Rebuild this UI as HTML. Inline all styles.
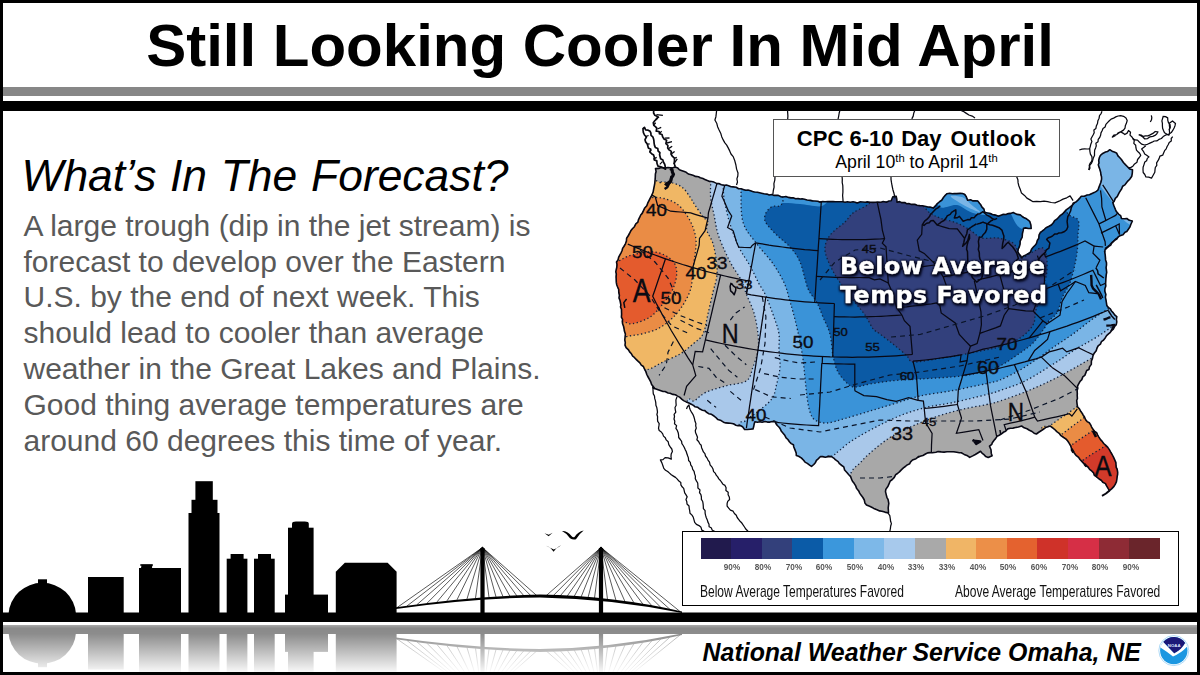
<!DOCTYPE html>
<html lang="en"><head><meta charset="utf-8"><title>Still Looking Cooler In Mid April</title>
<style>
html,body{margin:0;padding:0;background:#fff}
html{width:1200px;height:675px;overflow:hidden}
svg{display:block}
body{width:1200px;height:675px;position:relative;overflow:hidden;font-family:"Liberation Sans",sans-serif}
.abs{position:absolute}
#frame{left:0;top:0;width:1194px;height:669px;border:3px solid #000;z-index:20;pointer-events:none}
#gband{left:3px;top:86.7px;width:1194px;height:9.6px;background:#878787}
#kbar1{left:0;top:101px;width:1200px;height:9.5px;background:#000}
#kbar2{left:0;top:612.5px;width:1200px;height:9px;background:#000}
#title{left:0;top:0;width:1200px;text-align:center;font-weight:bold;font-size:60px;line-height:60px;white-space:nowrap;color:#000}
#h2{left:21.5px;top:151.3px;word-spacing:1.2px;font-style:italic;font-size:44.4px;line-height:50px;white-space:nowrap;color:#000}
#body{left:23.5px;top:207.7px;font-size:30px;line-height:35.85px;color:#595959;white-space:nowrap}
#foot{left:702.6px;top:636.8px;font-weight:bold;font-style:italic;font-size:24.92px;line-height:30px;white-space:nowrap;color:#000}
#cpc{left:773.3px;top:119.2px;width:284.4px;height:56.3px;border:1.2px solid #555;background:#fff;text-align:center}
#cpc .t1{position:absolute;left:0;width:100%;top:6.4px;font-weight:bold;font-size:22px;line-height:24px;white-space:nowrap}
#cpc .t2{position:absolute;left:0px;width:100%;top:30.8px;font-size:17.7px;line-height:22px;white-space:nowrap}
#cpc sup{font-size:11.3px;line-height:0;vertical-align:6.2px}
#legend{left:681.5px;top:531px;width:495px;height:73px;border:1px solid #000;background:#fff}
#legend .bar{position:absolute;left:18px;top:5.6px;height:21px;width:459.3px;display:flex}
#legend .bar i{display:block;flex:1 1 0;height:100%}
#legend .pl{position:absolute;top:28px;width:40px;margin-left:-20px;text-align:center;font-weight:bold;font-size:9.5px;line-height:14px;color:#585858;transform:scaleX(0.86)}
#legend .cap{position:absolute;top:50px;font-size:16.4px;line-height:18px;white-space:nowrap;color:#111;transform-origin:0 0;transform:scaleX(0.733)}
.ba{left:839.5px;width:206px;font-family:"DejaVu Sans","Liberation Sans",sans-serif;font-weight:bold;font-size:22.4px;line-height:29.4px;white-space:nowrap;letter-spacing:0.5px;transform-origin:0 0}
</style></head><body>
<div id="gband" class="abs"></div>
<div id="kbar1" class="abs"></div>
<div id="title" class="abs"><span style="position:relative;top:15.6px;left:0px">Still Looking Cooler In Mid April</span></div>
<div id="h2" class="abs">What’s In<span style="margin-left:0.3px"> The</span><span style="margin-left:0.3px"> Forecast?</span></div>
<div id="body" class="abs">A large trough (dip in the jet stream) is<br>forecast to develop over the Eastern<br>U.S. by the end of next week. This<br>should lead to cooler than average<br>weather in the Great Lakes and Plains.<br>Good thing average temperatures are<br>around 60 degrees this time of year.</div>
<div class="abs" style="left:0;top:0;width:1200px;height:675px;overflow:hidden"><svg id="art" width="1200" height="675" viewBox="0 0 1200 675">
<defs>
<clipPath id="us"><path d="M655.8,168.3 L675,167.5 L693.3,175.8 L716.7,183.3 L738.3,188.3 L766.7,194.2 L800,199 L820,201.7 L843,202.2 L875,202.5 L891.7,201.3 L893.3,196.7 L895.8,196.7 L896.7,201.7 L916.7,205 L933,208 L941.7,200 L946.7,193.3 L965,194 L968,200 L978,200.8 L985,211.7 L998,215.8 L1013,213 L1020,215 L1030,221.7 L1030.8,228 L1023,228 L1021.7,236.7 L1018,251.7 L1021.7,258 L1030,251.7 L1036.7,243 L1040,233 L1053,223 L1066.7,210 L1071.7,205 L1081.7,196.7 L1096.7,191.7 L1100,185 L1101.7,176.7 L1098.3,165 L1100,155 L1110,150 L1116.7,153.3 L1126.7,166.7 L1133,170 L1131.7,176.7 L1123,186.7 L1116.7,196.7 L1113,203 L1116.7,211.7 L1121.7,218 L1127,219 L1132,221 L1130,227 L1126.7,231 L1114,241 L1105,250 L1106.7,272 L1105,288.7 L1106.7,305 L1116.7,317 L1116.7,325 L1108,334 L1100,344 L1093,355.7 L1090,367 L1083,377 L1078,385.7 L1076.7,400.7 L1078,407 L1085.9,419.3 L1094.8,431.1 L1102.2,441.5 L1111.1,451.9 L1115.6,462.2 L1117.8,474.1 L1115.6,484.4 L1109.6,490.6 L1105.2,483.5 L1096.3,477 L1091.9,471.1 L1085.9,465.2 L1078.5,457.8 L1072.6,450.4 L1068.1,441.5 L1060.7,435.6 L1054.8,429.6 L1050,425.7 L1043,429 L1036.7,434 L1021.7,426.5 L1010,428 L996.7,436.7 L990,446.7 L992,456 L988,458 L980,451.7 L970,457.5 L961.7,453 L946.7,451.7 L930,452.5 L923,455 L913,460 L898,473 L890,481.7 L885,491.7 L889,503 L888,513 L876.7,510 L866.7,505 L860,493 L850,476.7 L841.7,465 L831.7,456.7 L820,456.7 L811.7,466.7 L796.7,455 L793,445 L781.7,431.7 L775,421.7 L755,422 L753,429 L745,429 L743,426.5 L723,422 L706.7,412 L693,405.7 L681.7,399 L678,395.7 L655,389 L651.7,384 L648,377 L643,367 L633,355.7 L625,345.7 L625,334 L621.7,317 L620,300 L615.8,277 L616.7,262 L625,243.7 L628,235 L637.5,222 L641.7,213 L648,203 L653,191.7 L655,180Z"/></clipPath>
<clipPath id="mapclip"><rect x="603" y="110" width="594" height="503"/></clipPath>
<linearGradient id="fade" x1="0" y1="625" x2="0" y2="672" gradientUnits="userSpaceOnUse"><stop offset="0" stop-color="#fff" stop-opacity="0.34"/><stop offset="0.07" stop-color="#fff" stop-opacity="0.46"/><stop offset="0.19" stop-color="#fff" stop-opacity="0.45"/><stop offset="1" stop-color="#fff" stop-opacity="0.03"/></linearGradient>
<mask id="rmask" maskUnits="userSpaceOnUse" x="0" y="620" width="1200" height="55"><rect x="0" y="620" width="1200" height="55" fill="url(#fade)"/></mask>
<filter id="ts" x="-10%" y="-30%" width="120%" height="160%"><feGaussianBlur stdDeviation="1.1"/></filter>
</defs>
<g clip-path="url(#mapclip)">
<g clip-path="url(#us)">
<rect x="600" y="110" width="600" height="420" fill="#a8a8a8"/>
<path d="M710.7,150 C710.7,163.3 710.7,172 710.7,180 C710.7,188 710.1,191.9 710.7,197.8 C711.3,203.7 713,209.7 714.2,215.6 C715.4,221.5 716,227.5 717.8,233.4 C719.6,239.3 722.5,245.9 724.9,251.2 C727.3,256.5 729.3,260.7 732,265.4 C734.7,270.1 738.5,274.9 740.9,279.6 C743.3,284.4 744.1,288.3 746.3,293.9 C748.5,299.5 752,306.3 754,313 C756,319.7 757.3,327.7 758,334 C758.7,340.3 758.8,345.2 758,350.7 C757.2,356.2 754.9,362 753,367 C751.1,372 751.1,377.6 746.7,380.7 C742.3,383.8 733.4,383.8 726.7,385.7 C720,387.6 712,389.5 706.7,392 C701.4,394.5 698.5,397.4 695,400.7 C691.5,404 686.8,388.8 686,412 C685.2,435.2 663.5,518.7 690,540 C716.5,561.3 819,548.3 845,540 C871,531.7 844.9,501.4 846,490 C847.1,478.6 849.4,476.2 851.7,471.7 C854,467.2 857,466.1 860,463 C863,459.9 865,457.2 870,453 C875,448.8 883,441.9 890,437.5 C897,433.1 903.9,430 911.7,426.5 C919.5,423 928.4,419.3 936.7,416.5 C945,413.7 953.4,411.5 961.7,409.5 C970,407.5 980.3,405.9 986.7,404.5 C993.1,403.1 992.8,403.4 1000,401 C1007.2,398.6 1020,394.2 1030,390 C1040,385.8 1049.5,381.4 1060,376 C1070.5,370.6 1081.3,363.8 1093,357.5 C1104.7,351.2 1112.2,347.6 1130,338 C1147.8,328.4 1188.3,339.7 1200,300 C1211.7,260.3 1281.5,133.3 1200,100 C1118.5,66.7 792.2,91.7 710.7,100 C629.2,108.3 710.7,136.7 710.7,150Z" fill="#a9c8ea"/>
<path d="M723,150 C723,164.2 722.8,176.5 723.1,185.3 C723.4,194.2 723.7,196.6 724.9,203.1 C726.1,209.6 727.8,217.1 730.2,224.5 C732.6,231.9 735.8,240.8 739.1,247.6 C742.4,254.4 746.5,259.5 749.8,265.4 C753.1,271.3 756,278.1 758.7,283.2 C761.4,288.2 763.1,289.6 765.8,295.7 C768.5,301.8 772.8,313.6 775,320 C777.2,326.4 778.3,328.9 779,334 C779.7,339.1 778.8,345.2 779,350.7 C779.2,356.2 780.4,361.4 780,367 C779.6,372.6 778.1,378.7 776.7,384 C775.3,389.3 775.2,394.2 771.7,399 C768.2,403.8 760.5,409.3 756,413 C751.5,416.7 748,417.3 745,421 C742,424.7 738.8,415.2 738,435 C737.2,454.8 725.5,522.5 740,540 C754.5,557.5 810.7,552.7 825,540 C839.3,527.3 824.7,478 826,464 C827.3,450 830.7,458.3 833,456 C835.3,453.7 836.7,452.7 840,450 C843.3,447.3 846.7,444 853,440 C859.3,436 869.7,430.2 878,426 C886.3,421.8 894.7,417.7 903,414.5 C911.3,411.3 919.7,409 928,407 C936.3,405 943.2,404.6 953,402.5 C962.8,400.4 978.9,396.5 986.7,394.5 C994.5,392.5 993.6,392.8 1000,390.5 C1006.4,388.2 1015.8,385.6 1025,381 C1034.2,376.4 1046.5,368.3 1055,363 C1063.5,357.7 1069.2,353.2 1076,349 C1082.8,344.8 1087,343 1096,337.5 C1105,332 1112.7,325.6 1130,316 C1147.3,306.4 1188.3,316 1200,280 C1211.7,244 1279.5,130 1200,100 C1120.5,70 802.5,91.7 723,100 C643.5,108.3 723,135.8 723,150Z" fill="#7ab5e6"/>
<path d="M741,150 C741,164.5 740.7,175 741,187 C741.3,199 740.4,212.6 743,222 C745.6,231.4 751.7,236.8 756.7,243.7 C761.7,250.6 768.4,257 773,263.7 C777.6,270.4 781.8,277.6 784.5,283.7 C787.2,289.8 788.1,295.3 789.5,300 C790.9,304.7 791.7,307 793,312 C794.3,317 795.9,322.7 797.5,330 C799.1,337.3 801.2,347.7 802.5,355.7 C803.8,363.7 804.2,371.1 805,378 C805.8,384.9 806.2,391.3 807,397 C807.8,402.7 808.7,408.2 810,412 C811.3,415.8 812.2,418.2 815,420 C817.8,421.8 821.7,423.2 826.7,423 C831.7,422.8 837.8,420.5 845,418.5 C852.2,416.5 861.7,413.5 870,411 C878.3,408.5 886.7,406 895,403.5 C903.3,401 910.3,398.2 920,396 C929.7,393.8 941.9,392.6 953,390.5 C964.1,388.4 978.9,385.2 986.7,383.5 C994.5,381.8 994.5,382.2 1000,380 C1005.5,377.8 1013.8,373.5 1020,370 C1026.2,366.5 1031.5,362.8 1037,359 C1042.5,355.2 1047,351.7 1053,347.5 C1059,343.3 1065.8,339.1 1073,334 C1080.2,328.9 1086.5,323 1096,316.7 C1105.5,310.4 1112.7,305.4 1130,296 C1147.3,286.6 1188.3,292.7 1200,260 C1211.7,227.3 1276.5,126.7 1200,100 C1123.5,73.3 817.5,91.7 741,100 C664.5,108.3 741,135.5 741,150Z" fill="#3a93d8"/>
<path d="M783,150 C736.8,158.4 784.9,191.1 783,200.5 C781.1,209.9 774.6,204.6 771.7,206.7 C768.8,208.8 766.8,210.8 765.8,213.3 C764.8,215.9 763.7,218.4 765.5,222 C767.3,225.6 772.6,230.8 776.7,235 C780.8,239.2 786.1,242.5 790,247 C793.9,251.5 797,255.1 800,262 C803,268.9 805.2,282 808,288.7 C810.8,295.4 814.2,297.3 816.7,302 C819.2,306.7 820.8,311.7 823,317 C825.2,322.3 828.3,327.6 830,334 C831.7,340.4 831.7,349.4 833,355.7 C834.3,362 835.5,367.3 838,372 C840.5,376.7 845.2,381.5 848,384 C850.8,386.5 851.3,387 855,387 C858.7,387 863.3,385.1 870,384 C876.7,382.9 886.7,381.3 895,380.5 C903.3,379.7 908.9,379.8 920,379 C931.1,378.2 950.9,377.3 961.7,376 C972.5,374.7 978.6,372.7 985,371 C991.4,369.3 994.2,369 1000,366 C1005.8,363 1014.5,356.8 1020,353 C1025.5,349.2 1029,347.1 1033,343 C1037,338.9 1041.3,332.4 1044,328.7 C1046.7,325 1046.8,323.4 1049,320.7 C1051.2,318 1054.7,316.7 1057,312.7 C1059.3,308.7 1060.4,302 1062.7,296.7 C1065,291.4 1068.4,287.6 1070.7,280.7 C1073,273.8 1075.5,262.6 1076.7,255 C1077.9,247.4 1077.8,240.8 1078,235 C1078.2,229.2 1079.9,223.9 1078,220 C1076.1,216.1 1069.7,218.4 1066.7,211.7 C1063.7,205 1061.1,190.3 1060,180 C1058.9,169.7 1106.2,155 1060,150 C1013.8,145 829.2,141.6 783,150Z" fill="#0b5aa5"/>
<path d="M845,222 C848.8,218.3 849.5,215.7 853,213 C856.5,210.3 862.2,208.2 866,206 C869.8,203.8 870.3,201.3 876,200 C881.7,198.7 892.7,197.3 900,198 C907.3,198.7 915,201.5 920,204 C925,206.5 926.7,210.7 930,213 C933.3,215.3 935.5,216.3 940,218 C944.5,219.7 951.7,221 956.7,223 C961.7,225 965.8,227.5 970,230 C974.2,232.5 977,236.7 981.7,238 C986.4,239.3 992.8,237.2 998,238 C1003.2,238.8 1009.7,240.7 1013,243 C1016.3,245.3 1016.5,249.2 1018,251.7 C1019.5,254.2 1019.2,258 1021.7,258 C1024.2,258 1029.5,253.4 1033,251.7 C1036.5,250 1040.7,246.9 1043,248 C1045.3,249.1 1046.1,253.8 1046.7,258 C1047.3,262.2 1047.2,268.8 1046.7,273 C1046.2,277.2 1045.8,276.8 1044,283 C1042.2,289.2 1037.8,303 1036,310 C1034.2,317 1035.7,320.3 1033,325 C1030.3,329.7 1025.5,334.4 1020,338 C1014.5,341.6 1006.2,344.4 1000,346.5 C993.8,348.6 990,349 983,350.5 C976,352 966.3,354 958,355.5 C949.7,357 940.5,358.4 933,359.5 C925.5,360.6 917.4,362.6 913,362 C908.6,361.4 910,358.7 906.7,355.7 C903.4,352.7 897.5,347.6 893,344 C888.5,340.4 883.3,336.6 880,334 C876.7,331.4 875.5,331.9 873,328.7 C870.5,325.5 868.3,319.8 865,315 C861.7,310.2 856.9,305 853,300 C849.1,295 845.2,290.2 841.7,285 C838.2,279.8 834.5,274.5 831.7,268.7 C828.9,262.9 825.3,255.6 825,250 C824.7,244.4 826.7,240 830,235.3 C833.3,230.6 841.2,225.7 845,222Z" fill="#32407c"/>
<path d="M938,190 C946.3,187.2 981.3,186.2 990,190 C998.7,193.8 992.8,209.2 990,213 C987.2,216.8 978.5,214.3 973,213 C967.5,211.7 962.5,206 957,205 C951.5,204 943.2,209.5 940,207 C936.8,204.5 929.7,192.8 938,190Z" fill="#3a93d8"/>
<path d="M768,190 C777,188.3 815,192.3 824,195 C833,197.7 826,204.5 822,206 C818,207.5 806.5,204.5 800,204 C793.5,203.5 788,202.8 783,203 C778,203.2 772.5,207.2 770,205 C767.5,202.8 759,191.7 768,190Z" fill="#3a93d8"/>
<path d="M1010,205 C1013.8,204.8 1030.8,210.8 1035,215 C1039.2,219.2 1037.5,227.8 1035,230 C1032.5,232.2 1023.8,230.3 1020,228 C1016.2,225.7 1013.7,219.8 1012,216 C1010.3,212.2 1006.2,205.2 1010,205Z" fill="#3a93d8"/>
<path d="M1090,140 C1097.3,135 1131.7,126.3 1140,140 C1148.3,153.7 1143.7,209.5 1140,222 C1136.3,234.5 1122.5,218.2 1118,215 C1113.5,211.8 1116,208 1113,203 C1110,198 1102.8,190.5 1100,185 C1097.2,179.5 1097.7,177.5 1096,170 C1094.3,162.5 1082.7,145 1090,140Z" fill="#7ab5e6"/>
<path d="M950.7,196 C951.6,195.3 959.2,195.8 962.7,197.3 C966.2,198.9 969.1,202.9 972,205.3 C974.9,207.8 980.5,211.6 980,212 C979.5,212.4 973.1,209.8 969.3,208 C965.5,206.2 960.4,203.3 957.3,201.3 C954.2,199.3 949.8,196.7 950.7,196Z" fill="#7ab5e6"/>
<path d="M600,150 C609.2,113.3 645,174.7 655,180 C665,185.3 657,181.2 660,181.7 C663,182.2 669.2,181.9 673,183 C676.8,184.1 680.2,185.7 683,188 C685.8,190.3 688,194.2 690,197 C692,199.8 692.8,201.7 695,205 C697.2,208.3 700.8,213.9 703,216.7 C705.2,219.5 707.4,219.8 708,222 C708.6,224.2 705.9,226.4 706.7,230 C707.5,233.6 711.3,238.1 713,243.7 C714.7,249.3 716.1,258.1 716.7,263.7 C717.3,269.2 717.3,272.3 716.7,277 C716.1,281.7 714.5,285.9 713,292 C711.5,298.1 709.7,306.7 708,313.7 C706.3,320.7 705.5,328.9 703,334 C700.5,339.1 696.8,340.7 693,344 C689.2,347.3 685,351 680,354 C675,357 668,359.5 663,362 C658,364.5 653.8,367.3 650,369 C646.2,370.7 648.3,366.8 640,372 C631.7,377.2 606.7,437 600,400 C593.3,363 590.8,186.7 600,150Z" fill="#f0b765"/>
<path d="M600,185 C606.7,160.7 631.3,196.9 640,199 C648.7,201.1 648,197.6 652,197.5 C656,197.4 659.8,197.4 664,198.5 C668.2,199.6 673.3,201.4 677,204 C680.7,206.6 683.4,210.3 686,214 C688.6,217.7 690.8,221.7 692.5,226 C694.2,230.3 695.6,235.2 696,240 C696.4,244.8 695.6,249.7 695,255 C694.4,260.3 693.2,266.4 692.5,272 C691.8,277.6 692.4,283.2 690.8,288.7 C689.2,294.2 686.2,300 683,305 C679.8,310 675.9,314.8 671.7,318.7 C667.5,322.6 663,326.1 658,328.7 C653,331.2 647.2,332.6 641.7,334 C636.2,335.4 632,335.2 625,337 C618,338.8 604.2,370.3 600,345 C595.8,319.7 593.3,209.3 600,185Z" fill="#ea8c45"/>
<path d="M600,270 C602.8,260 611.4,264.5 616.7,262 C622,259.5 625.3,256.7 631.7,255 C638.1,253.3 648.3,251.2 655,252 C661.7,252.8 668.1,256.7 671.7,260 C675.3,263.3 676.5,267.2 676.7,272 C676.9,276.8 675.3,283.4 673,288.7 C670.7,294 666.8,299 663,303.7 C659.2,308.4 655,313.7 650,317 C645,320.3 637.5,322.9 633,323.7 C628.5,324.5 628.5,322.3 623,322 C617.5,321.7 603.8,330.7 600,322 C596.2,313.3 597.2,280 600,270Z" fill="#e45b2d"/>
<path d="M1040,436 C1041.8,420.2 1045,429.8 1051,425 C1057,420.2 1069.5,412.3 1076,407.5 C1082.5,402.7 1079.3,393.9 1090,396 C1100.7,398.1 1131.7,399.3 1140,420 C1148.3,440.7 1156.7,503.3 1140,520 C1123.3,536.7 1056.7,534 1040,520 C1023.3,506 1038.2,451.8 1040,436Z" fill="#f0b765"/>
<path d="M1050,446 C1051.8,431.8 1055.3,439.7 1061,435 C1066.7,430.3 1077.5,422.6 1084,417.6 C1090.5,412.6 1090.7,404.6 1100,405 C1109.3,405.4 1133.3,400.8 1140,420 C1146.7,439.2 1155,503.3 1140,520 C1125,536.7 1065,532.3 1050,520 C1035,507.7 1048.2,460.2 1050,446Z" fill="#ea8c45"/>
<path d="M1060,456 C1061.8,443.6 1064.9,450.2 1071,445.5 C1077.1,440.8 1089.2,433.2 1096.5,428 C1103.8,422.8 1107.8,415.3 1115,414 C1122.2,412.7 1135.8,402.3 1140,420 C1144.2,437.7 1153.3,503.3 1140,520 C1126.7,536.7 1073.3,530.7 1060,520 C1046.7,509.3 1058.2,468.4 1060,456Z" fill="#e45b2d"/>
<path d="M1073,470.5 C1074.8,460.4 1078.4,463.8 1084,459.5 C1089.6,455.2 1099.7,449.8 1106.5,445 C1113.3,440.2 1119.4,431.8 1125,431 C1130.6,430.2 1137.5,425.2 1140,440 C1142.5,454.8 1151.2,506.7 1140,520 C1128.8,533.3 1084.2,528.2 1073,520 C1061.8,511.8 1071.2,480.6 1073,470.5Z" fill="#d33a2a"/>
</g>
<g clip-path="url(#us)" fill="none" stroke="#10203c" stroke-width="1.3" stroke-dasharray="1.3 2.5">
<path d="M710.7,150 C710.7,163.3 710.7,172 710.7,180 C710.7,188 710.1,191.9 710.7,197.8 C711.3,203.7 713,209.7 714.2,215.6 C715.4,221.5 716,227.5 717.8,233.4 C719.6,239.3 722.5,245.9 724.9,251.2 C727.3,256.5 729.3,260.7 732,265.4 C734.7,270.1 738.5,274.9 740.9,279.6 C743.3,284.4 744.1,288.3 746.3,293.9 C748.5,299.5 752,306.3 754,313 C756,319.7 757.3,327.7 758,334 C758.7,340.3 758.8,345.2 758,350.7 C757.2,356.2 754.9,362 753,367 C751.1,372 751.1,377.6 746.7,380.7 C742.3,383.8 733.4,383.8 726.7,385.7 C720,387.6 712,389.5 706.7,392 C701.4,394.5 698.5,397.4 695,400.7 C691.5,404 686.8,388.8 686,412 C685.2,435.2 663.5,518.7 690,540 C716.5,561.3 819,548.3 845,540 C871,531.7 844.9,501.4 846,490 C847.1,478.6 849.4,476.2 851.7,471.7 C854,467.2 857,466.1 860,463 C863,459.9 865,457.2 870,453 C875,448.8 883,441.9 890,437.5 C897,433.1 903.9,430 911.7,426.5 C919.5,423 928.4,419.3 936.7,416.5 C945,413.7 953.4,411.5 961.7,409.5 C970,407.5 980.3,405.9 986.7,404.5 C993.1,403.1 992.8,403.4 1000,401 C1007.2,398.6 1020,394.2 1030,390 C1040,385.8 1049.5,381.4 1060,376 C1070.5,370.6 1081.3,363.8 1093,357.5 C1104.7,351.2 1112.2,347.6 1130,338 C1147.8,328.4 1188.3,339.7 1200,300 C1211.7,260.3 1281.5,133.3 1200,100 C1118.5,66.7 792.2,91.7 710.7,100 C629.2,108.3 710.7,136.7 710.7,150Z"/>
<path d="M723,150 C723,164.2 722.8,176.5 723.1,185.3 C723.4,194.2 723.7,196.6 724.9,203.1 C726.1,209.6 727.8,217.1 730.2,224.5 C732.6,231.9 735.8,240.8 739.1,247.6 C742.4,254.4 746.5,259.5 749.8,265.4 C753.1,271.3 756,278.1 758.7,283.2 C761.4,288.2 763.1,289.6 765.8,295.7 C768.5,301.8 772.8,313.6 775,320 C777.2,326.4 778.3,328.9 779,334 C779.7,339.1 778.8,345.2 779,350.7 C779.2,356.2 780.4,361.4 780,367 C779.6,372.6 778.1,378.7 776.7,384 C775.3,389.3 775.2,394.2 771.7,399 C768.2,403.8 760.5,409.3 756,413 C751.5,416.7 748,417.3 745,421 C742,424.7 738.8,415.2 738,435 C737.2,454.8 725.5,522.5 740,540 C754.5,557.5 810.7,552.7 825,540 C839.3,527.3 824.7,478 826,464 C827.3,450 830.7,458.3 833,456 C835.3,453.7 836.7,452.7 840,450 C843.3,447.3 846.7,444 853,440 C859.3,436 869.7,430.2 878,426 C886.3,421.8 894.7,417.7 903,414.5 C911.3,411.3 919.7,409 928,407 C936.3,405 943.2,404.6 953,402.5 C962.8,400.4 978.9,396.5 986.7,394.5 C994.5,392.5 993.6,392.8 1000,390.5 C1006.4,388.2 1015.8,385.6 1025,381 C1034.2,376.4 1046.5,368.3 1055,363 C1063.5,357.7 1069.2,353.2 1076,349 C1082.8,344.8 1087,343 1096,337.5 C1105,332 1112.7,325.6 1130,316 C1147.3,306.4 1188.3,316 1200,280 C1211.7,244 1279.5,130 1200,100 C1120.5,70 802.5,91.7 723,100 C643.5,108.3 723,135.8 723,150Z"/>
<path d="M741,150 C741,164.5 740.7,175 741,187 C741.3,199 740.4,212.6 743,222 C745.6,231.4 751.7,236.8 756.7,243.7 C761.7,250.6 768.4,257 773,263.7 C777.6,270.4 781.8,277.6 784.5,283.7 C787.2,289.8 788.1,295.3 789.5,300 C790.9,304.7 791.7,307 793,312 C794.3,317 795.9,322.7 797.5,330 C799.1,337.3 801.2,347.7 802.5,355.7 C803.8,363.7 804.2,371.1 805,378 C805.8,384.9 806.2,391.3 807,397 C807.8,402.7 808.7,408.2 810,412 C811.3,415.8 812.2,418.2 815,420 C817.8,421.8 821.7,423.2 826.7,423 C831.7,422.8 837.8,420.5 845,418.5 C852.2,416.5 861.7,413.5 870,411 C878.3,408.5 886.7,406 895,403.5 C903.3,401 910.3,398.2 920,396 C929.7,393.8 941.9,392.6 953,390.5 C964.1,388.4 978.9,385.2 986.7,383.5 C994.5,381.8 994.5,382.2 1000,380 C1005.5,377.8 1013.8,373.5 1020,370 C1026.2,366.5 1031.5,362.8 1037,359 C1042.5,355.2 1047,351.7 1053,347.5 C1059,343.3 1065.8,339.1 1073,334 C1080.2,328.9 1086.5,323 1096,316.7 C1105.5,310.4 1112.7,305.4 1130,296 C1147.3,286.6 1188.3,292.7 1200,260 C1211.7,227.3 1276.5,126.7 1200,100 C1123.5,73.3 817.5,91.7 741,100 C664.5,108.3 741,135.5 741,150Z"/>
<path d="M783,150 C736.8,158.4 784.9,191.1 783,200.5 C781.1,209.9 774.6,204.6 771.7,206.7 C768.8,208.8 766.8,210.8 765.8,213.3 C764.8,215.9 763.7,218.4 765.5,222 C767.3,225.6 772.6,230.8 776.7,235 C780.8,239.2 786.1,242.5 790,247 C793.9,251.5 797,255.1 800,262 C803,268.9 805.2,282 808,288.7 C810.8,295.4 814.2,297.3 816.7,302 C819.2,306.7 820.8,311.7 823,317 C825.2,322.3 828.3,327.6 830,334 C831.7,340.4 831.7,349.4 833,355.7 C834.3,362 835.5,367.3 838,372 C840.5,376.7 845.2,381.5 848,384 C850.8,386.5 851.3,387 855,387 C858.7,387 863.3,385.1 870,384 C876.7,382.9 886.7,381.3 895,380.5 C903.3,379.7 908.9,379.8 920,379 C931.1,378.2 950.9,377.3 961.7,376 C972.5,374.7 978.6,372.7 985,371 C991.4,369.3 994.2,369 1000,366 C1005.8,363 1014.5,356.8 1020,353 C1025.5,349.2 1029,347.1 1033,343 C1037,338.9 1041.3,332.4 1044,328.7 C1046.7,325 1046.8,323.4 1049,320.7 C1051.2,318 1054.7,316.7 1057,312.7 C1059.3,308.7 1060.4,302 1062.7,296.7 C1065,291.4 1068.4,287.6 1070.7,280.7 C1073,273.8 1075.5,262.6 1076.7,255 C1077.9,247.4 1077.8,240.8 1078,235 C1078.2,229.2 1079.9,223.9 1078,220 C1076.1,216.1 1069.7,218.4 1066.7,211.7 C1063.7,205 1061.1,190.3 1060,180 C1058.9,169.7 1106.2,155 1060,150 C1013.8,145 829.2,141.6 783,150Z"/>
<path d="M845,222 C848.8,218.3 849.5,215.7 853,213 C856.5,210.3 862.2,208.2 866,206 C869.8,203.8 870.3,201.3 876,200 C881.7,198.7 892.7,197.3 900,198 C907.3,198.7 915,201.5 920,204 C925,206.5 926.7,210.7 930,213 C933.3,215.3 935.5,216.3 940,218 C944.5,219.7 951.7,221 956.7,223 C961.7,225 965.8,227.5 970,230 C974.2,232.5 977,236.7 981.7,238 C986.4,239.3 992.8,237.2 998,238 C1003.2,238.8 1009.7,240.7 1013,243 C1016.3,245.3 1016.5,249.2 1018,251.7 C1019.5,254.2 1019.2,258 1021.7,258 C1024.2,258 1029.5,253.4 1033,251.7 C1036.5,250 1040.7,246.9 1043,248 C1045.3,249.1 1046.1,253.8 1046.7,258 C1047.3,262.2 1047.2,268.8 1046.7,273 C1046.2,277.2 1045.8,276.8 1044,283 C1042.2,289.2 1037.8,303 1036,310 C1034.2,317 1035.7,320.3 1033,325 C1030.3,329.7 1025.5,334.4 1020,338 C1014.5,341.6 1006.2,344.4 1000,346.5 C993.8,348.6 990,349 983,350.5 C976,352 966.3,354 958,355.5 C949.7,357 940.5,358.4 933,359.5 C925.5,360.6 917.4,362.6 913,362 C908.6,361.4 910,358.7 906.7,355.7 C903.4,352.7 897.5,347.6 893,344 C888.5,340.4 883.3,336.6 880,334 C876.7,331.4 875.5,331.9 873,328.7 C870.5,325.5 868.3,319.8 865,315 C861.7,310.2 856.9,305 853,300 C849.1,295 845.2,290.2 841.7,285 C838.2,279.8 834.5,274.5 831.7,268.7 C828.9,262.9 825.3,255.6 825,250 C824.7,244.4 826.7,240 830,235.3 C833.3,230.6 841.2,225.7 845,222Z"/>
<path d="M600,150 C609.2,113.3 645,174.7 655,180 C665,185.3 657,181.2 660,181.7 C663,182.2 669.2,181.9 673,183 C676.8,184.1 680.2,185.7 683,188 C685.8,190.3 688,194.2 690,197 C692,199.8 692.8,201.7 695,205 C697.2,208.3 700.8,213.9 703,216.7 C705.2,219.5 707.4,219.8 708,222 C708.6,224.2 705.9,226.4 706.7,230 C707.5,233.6 711.3,238.1 713,243.7 C714.7,249.3 716.1,258.1 716.7,263.7 C717.3,269.2 717.3,272.3 716.7,277 C716.1,281.7 714.5,285.9 713,292 C711.5,298.1 709.7,306.7 708,313.7 C706.3,320.7 705.5,328.9 703,334 C700.5,339.1 696.8,340.7 693,344 C689.2,347.3 685,351 680,354 C675,357 668,359.5 663,362 C658,364.5 653.8,367.3 650,369 C646.2,370.7 648.3,366.8 640,372 C631.7,377.2 606.7,437 600,400 C593.3,363 590.8,186.7 600,150Z"/>
<path d="M600,185 C606.7,160.7 631.3,196.9 640,199 C648.7,201.1 648,197.6 652,197.5 C656,197.4 659.8,197.4 664,198.5 C668.2,199.6 673.3,201.4 677,204 C680.7,206.6 683.4,210.3 686,214 C688.6,217.7 690.8,221.7 692.5,226 C694.2,230.3 695.6,235.2 696,240 C696.4,244.8 695.6,249.7 695,255 C694.4,260.3 693.2,266.4 692.5,272 C691.8,277.6 692.4,283.2 690.8,288.7 C689.2,294.2 686.2,300 683,305 C679.8,310 675.9,314.8 671.7,318.7 C667.5,322.6 663,326.1 658,328.7 C653,331.2 647.2,332.6 641.7,334 C636.2,335.4 632,335.2 625,337 C618,338.8 604.2,370.3 600,345 C595.8,319.7 593.3,209.3 600,185Z"/>
<path d="M600,270 C602.8,260 611.4,264.5 616.7,262 C622,259.5 625.3,256.7 631.7,255 C638.1,253.3 648.3,251.2 655,252 C661.7,252.8 668.1,256.7 671.7,260 C675.3,263.3 676.5,267.2 676.7,272 C676.9,276.8 675.3,283.4 673,288.7 C670.7,294 666.8,299 663,303.7 C659.2,308.4 655,313.7 650,317 C645,320.3 637.5,322.9 633,323.7 C628.5,324.5 628.5,322.3 623,322 C617.5,321.7 603.8,330.7 600,322 C596.2,313.3 597.2,280 600,270Z"/>
<path d="M1040,436 C1041.8,420.2 1045,429.8 1051,425 C1057,420.2 1069.5,412.3 1076,407.5 C1082.5,402.7 1079.3,393.9 1090,396 C1100.7,398.1 1131.7,399.3 1140,420 C1148.3,440.7 1156.7,503.3 1140,520 C1123.3,536.7 1056.7,534 1040,520 C1023.3,506 1038.2,451.8 1040,436Z"/>
<path d="M1050,446 C1051.8,431.8 1055.3,439.7 1061,435 C1066.7,430.3 1077.5,422.6 1084,417.6 C1090.5,412.6 1090.7,404.6 1100,405 C1109.3,405.4 1133.3,400.8 1140,420 C1146.7,439.2 1155,503.3 1140,520 C1125,536.7 1065,532.3 1050,520 C1035,507.7 1048.2,460.2 1050,446Z"/>
<path d="M1060,456 C1061.8,443.6 1064.9,450.2 1071,445.5 C1077.1,440.8 1089.2,433.2 1096.5,428 C1103.8,422.8 1107.8,415.3 1115,414 C1122.2,412.7 1135.8,402.3 1140,420 C1144.2,437.7 1153.3,503.3 1140,520 C1126.7,536.7 1073.3,530.7 1060,520 C1046.7,509.3 1058.2,468.4 1060,456Z"/>
<path d="M1073,470.5 C1074.8,460.4 1078.4,463.8 1084,459.5 C1089.6,455.2 1099.7,449.8 1106.5,445 C1113.3,440.2 1119.4,431.8 1125,431 C1130.6,430.2 1137.5,425.2 1140,440 C1142.5,454.8 1151.2,506.7 1140,520 C1128.8,533.3 1084.2,528.2 1073,520 C1061.8,511.8 1071.2,480.6 1073,470.5Z"/>
</g>
<g clip-path="url(#us)" fill="none" stroke="#080814" stroke-width="1.25">
<path d="M650.7,194.4 L655.3,197 L657.6,205.5 L661.9,207.4 L666.2,209.3 L670.6,211.2 L675.5,211.6 L680.3,212 L685.2,212.3 L690.7,212.9 L695,214.3 L699.3,215.6 L703.6,216.9 L708,218.2"/>
<path d="M717.5,181.5 L715.7,187.8 L713.9,194 L712.1,200.2 L710.3,206.5 L708.4,212.8 L708,218.2"/>
<path d="M708,218.2 L706.5,224.5 L705.1,230.7 L699.5,238.4 L699.2,245.1 L697.1,252.6 L694.9,260 L692.8,267.6"/>
<path d="M627.8,244.1 L632.3,246 L636.8,247.9 L641.3,249.7 L645.9,251.5 L650.4,253.3 L655,255 L659.5,256.7 L664.1,258.3 L668.7,259.9 L673.4,261.5 L678,263 L682.6,264.5 L687.3,265.9 L691.9,267.3 L696.6,268.7 L701.3,270 L706,271.3 L710.7,272.5 L715.4,273.7 L720.2,274.9 L724.9,276 L729.7,277.1 L734.4,278.1 L739.2,279.1 L744,280.1 L748.8,281"/>
<path d="M665.5,258.8 L663.4,265 L661.3,271.2 L659.1,277.5 L657,283.7 L654.9,290 L652.7,296.3 L656.2,303.2 L659.9,310.1 L663.6,317 L667.5,323.8 L671.4,330.7 L675.5,337.5 L679.6,344.4 L683.9,351.2 L688.2,358.1 L692.7,364.9"/>
<path d="M720.6,275 L719,281.8 L717.4,288.7 L715.8,295.6 L714.1,302.5 L712.5,309.5 L710.9,316.4 L709.2,323.5 L707.6,330.5 L705.9,337.6 L704.3,344.6 L702.6,351.8 L695.2,351.4 L694,358.1 L692.7,364.9"/>
<path d="M692.7,364.9 L695.8,375.6 L686.6,386.3 L684.1,395.5"/>
<path d="M705.4,339.8 L710.7,341.1 L716.1,342.3 L721.4,343.5 L726.8,344.6 L732.2,345.6 L737.6,346.7 L743,347.6 L748.4,348.6 L753.8,349.5 L759.2,350.3 L764.7,351.1 L770.1,351.8 L775.5,352.5 L781,353.2 L786.4,353.8 L791.9,354.3 L797.4,354.8 L802.8,355.3 L808.3,355.7 L813.8,356.1 L819.2,356.4 L824.7,356.6 L830.2,356.9 L835.7,357 L841.2,357.2 L846.7,357.2 L852.1,357.3 L857.6,357.2 L863.1,357.2 L868.6,357.1 L874.1,356.9 L879.6,356.7 L885,356.4 L890.5,356.1 L896,355.8 L901.5,355.4 L906.9,354.9 L912.4,354.5"/>
<path d="M765.8,297.2 L764.8,303.8 L763.8,310.5 L762.8,317.2 L761.8,323.9 L760.8,330.7 L759.8,337.4 L758.8,344.2 L757.8,351.1 L756.8,357.9 L755.8,364.8 L754.7,371.7 L753.7,378.6 L752.7,385.6 L751.6,392.6 L750.6,399.6 L749.5,406.7 L748.5,413.8 L747.4,420.9 L746.4,428.1"/>
<path d="M746.4,293.9 L751.2,294.8 L756.1,295.6 L760.9,296.4 L765.8,297.2 L770.7,297.9 L775.6,298.6 L780.4,299.2 L785.3,299.8 L790.2,300.4 L795.1,300.9 L800,301.3 L804.9,301.8 L809.8,302.2 L814.7,302.5 L819.7,302.8 L824.6,303.1 L829.5,303.3 L834.4,303.5"/>
<path d="M755.7,242.8 L754.6,249.1 L753.4,255.4 L752.3,261.8 L751.1,268.2 L749.9,274.6 L748.8,281 L747.6,287.4 L746.4,293.9"/>
<path d="M748.8,281 L747.6,287.4 L746.4,293.9"/>
<path d="M725.2,183.7 L723.5,189.9 L721.9,196.1 L723.8,200.3 L728.2,210.6 L731.7,216 L727.6,227.5 L733.2,230.8 L736.3,241.4 L738.7,247.2 L744.7,247.5 L750.7,247.7 L752.2,245.4 L755.7,242.8"/>
<path d="M755.7,242.8 L760.2,243.6 L764.6,244.3 L769,245.1 L773.5,245.8 L777.9,246.4 L782.4,247 L786.8,247.6 L791.3,248.2 L795.8,248.7 L800.3,249.1 L804.7,249.6 L809.2,249.9 L813.7,250.3 L818.2,250.6"/>
<path d="M821.4,200 L821,206.3 L820.6,212.5 L820.2,218.8 L819.8,225.2 L819.4,231.5 L819,237.8 L818.5,244.2 L818.1,250.6 L817.7,257 L817.3,263.5 L816.9,269.9 L816.4,276.4 L816,282.9 L815.6,289.4 L815.2,295.9 L814.7,302.5"/>
<path d="M818.9,238.6 L823.6,238.9 L828.3,239.1 L833,239.3 L837.7,239.5 L842.4,239.6 L847.1,239.7 L851.8,239.7 L856.5,239.7 L861.1,239.7 L865.8,239.6 L870.5,239.4 L875.2,239.2 L879.9,239 L884.6,238.7"/>
<path d="M816.4,276.4 L821.2,276.7 L825.9,276.9 L830.6,277.1 L835.4,277.3 L840.1,277.4 L844.9,277.5 L849.6,277.6 L854.4,277.6 L859.1,277.5 L863.9,277.5 L868.6,277.4 L874.4,279.8 L880,278.9 L888.3,283"/>
<path d="M834.4,303.5 L834.2,310.1 L834,316.7 L833.8,323.3 L833.6,330 L833.4,336.7 L833.2,343.4 L832.9,350.2 L832.7,356.9"/>
<path d="M834,316.7 L839.2,316.8 L844.4,316.9 L849.7,317 L854.9,317 L860.1,316.9 L865.3,316.9 L870.6,316.7 L875.8,316.5 L881,316.3 L886.2,316 L891.4,315.7 L896.7,315.4 L901.9,315"/>
<path d="M822.5,356.5 L822.2,363.3 L827.6,363.6 L833.1,363.8 L838.5,363.9 L843.9,364 L849.3,364.1 L854.8,364.1 L854.8,372.9 L854.8,381.8 L854.8,390.7"/>
<path d="M821.8,363.3 L821.4,370.1 L821.1,377 L820.7,383.9 L820.4,390.8 L820,397.7 L819.7,404.7 L819.3,411.7 L818.9,418.7 L818.6,425.7 L812.5,425.4 L806.5,425 L800.5,424.6 L794.5,424.1 L788.4,423.6 L782.4,423 L776.4,422.4"/>
<path d="M854.8,390.7 L863.9,395.6 L870.2,396.2 L876.5,396.7 L886.9,399.7 L896.2,401.3 L902.4,399.5 L908.6,397.6 L918.1,400.4"/>
<path d="M918.1,400.4 L923.4,401.1 L924.2,408.3 L924.9,415.6 L925.7,422.9 L932.1,433.5 L931.5,445.1 L931.3,455.3"/>
<path d="M924.2,408.5 L930.8,407.8 L937.5,407.1 L944.1,406.3 L950.8,405.4 L957.4,404.5"/>
<path d="M913,361.2 L914.8,368.6 L916.5,376 L917.1,384.1 L917.6,392.2 L918.1,400.4"/>
<path d="M913,361.2 L919.1,360.6 L925.1,360 L931.1,359.3 L937.1,358.5 L943.1,357.7 L949.1,356.8 L955.1,355.8 L961.1,354.8 L960.1,361.9 L967.1,360.7"/>
<path d="M912.4,354.5 L911.8,347.4 L911.2,340.3 L910.6,333.3 L910,326.3 L904.4,320.7 L901.9,315 L896.6,307.7 L893.5,295.7 L890.9,289.3 L888.3,283 L887.9,276.5 L887.5,270 L887,262.2 L886.5,254.5 L886,246.8 L882.3,243.2 L884.6,238.7 L882.4,230.5 L880.9,219.1 L879.5,212.9 L878.2,206.6 L876.8,200.4"/>
<path d="M896.6,307.7 L901.6,307.2 L906.6,306.8 L911.6,306.2 L916.6,305.7 L921.5,305.1 L926.5,304.4 L931.5,303.8 L936.5,303 L939.9,305.5"/>
<path d="M887.5,270 L892.3,269.7 L897.2,269.3 L902,268.9 L906.9,268.4 L911.7,267.9 L916.6,267.4 L921.4,266.8 L926.2,266.2 L931,265.5 L935.8,264.8"/>
<path d="M922.2,225.3 L921.7,234.3 L917.3,240.1 L919.3,250.8 L924.2,253.4 L930,259.1 L935.8,264.8 L939.5,270.8 L943.2,276.8 L945.4,283 L947.6,289.3 L943.7,295.9 L939.7,302.6 L939.9,305.5 L941.2,313 L948.2,318 L955.2,323 L959.3,334.5 L964.8,340.4 L970.5,346.2 L968,353.6 L967.1,360.7 L965,368 L962.8,375.4 L960.6,382.8 L958.3,390.2 L957.9,397.3 L957.4,404.5 L959.4,411.3 L961.5,418.1 L959,425.7 L956.4,433.3 L963.9,432.1 L971.4,430.9 L978.8,429.6 L983,440.5"/>
<path d="M943.2,276.8 L948.6,275.9 L953.9,274.9 L959.2,273.9 L964.5,272.9 L969.8,271.8"/>
<path d="M937,225 L943.1,226.8 L949.2,228.6 L957.3,228.9 L964.7,238.5"/>
<path d="M974.3,280.7 L976,288.4 L977.6,296.2 L979.3,304 L981,311.8 L981.4,324.8 L979.9,333.3"/>
<path d="M1000,275.3 L1001.7,281.9 L1003.5,288.5 L1005.2,295.2 L1007,301.8 L1008.7,308.6"/>
<path d="M977.4,280 L983.1,278.7 L988.8,277.3 L994.4,275.9 L1000,274.5 L1000.2,275.2 L1006.5,273.3 L1012.7,271.3"/>
<path d="M970.5,346.2 L977.1,343.6 L979.9,333.3 L985.2,331.5 L990.5,329.6 L995.5,327.8 L1000.4,325.9 L1004.2,315.2 L1008.7,308.6 L1014.3,309.3 L1019.9,310.1 L1025.6,310.8 L1033.3,311.2 L1036.3,303.3 L1040.3,297.1 L1044.2,290.9 L1044.4,283.8 L1044.5,276.8 L1042.1,269.7 L1039.8,262.7 L1037.4,255.6"/>
<path d="M1044.4,253.6 L1045.5,256.9 L1050.5,255.1 L1055.5,253.2 L1060.5,251.3 L1065.4,249.3 L1070.3,247.3 L1075.2,245.3 L1080.1,243.2 L1085,241 L1094.1,246.1 L1093,253.2 L1099.9,260.2 L1096.1,267.7"/>
<path d="M1048.3,287.8 L1053.3,286 L1058.3,284.2 L1063.3,282.4 L1068.3,280.5 L1073.3,278.5 L1078.2,276.5 L1083.1,274.5 L1088,272.4 L1092.9,270.3 L1096.7,277.9 L1100.5,285.5 L1106.7,282.7"/>
<path d="M968,353.6 L975.6,351.5 L983.2,349.2 L989,348 L994.8,346.7 L1000.6,345.4 L1006.3,344 L1012.1,342.5 L1017.8,341 L1023.5,339.5 L1029.2,337.8 L1034.6,336.3 L1040.1,334.7 L1045.4,333.1 L1050.8,331.4 L1056.2,329.7 L1061.5,327.9 L1066.9,326.1 L1072.2,324.2 L1077.5,322.3 L1082.8,320.3 L1088.1,318.3 L1093.3,316.3 L1098.5,314.2 L1103.8,312 L1109,309.8"/>
<path d="M1049.9,331.7 L1047.5,339.4 L1041.2,345 L1034.7,350.5 L1028.2,360.9"/>
<path d="M962.8,375.4 L968.5,374.4 L974.2,373.4 L979.8,372.3 L985.5,371.2 L991.1,370 L996.7,368.8 L1002.3,367.5 L1007.9,366.1 L1013.5,364.8 L1019.1,363.3 L1024.7,361.9 L1030.2,360.3 L1035.8,358.8 L1041.3,357.1 L1049.1,351.9 L1055.9,350.1 L1062.6,348.2 L1066.7,351.9 L1072.5,349.9 L1078.4,347.8 L1086.7,351.8 L1095.1,355.6"/>
<path d="M1041.3,357.1 L1047,362.6 L1052.8,368.1 L1064.9,376 L1071.3,382.4 L1077.7,388.8"/>
<path d="M985.9,371.1 L986.9,377.9 L987.8,384.8 L988.7,391.8 L989.6,398.7 L990.5,405.7 L992.1,413.7 L993.7,421.7 L995.3,429.7 L996.9,437.8"/>
<path d="M1014.3,364.6 L1017.2,371.3 L1020.1,378.1 L1023.1,384.9 L1026.1,391.7 L1029,400.2 L1031.9,408.7 L1034.8,417.2 L1037.5,421 L1043.9,419.6 L1050.3,418.2 L1056.6,416.8 L1062.9,415.3 L1069.3,413.7 L1071.9,416 L1077.3,408.8"/>
<path d="M1034.8,417.2 L1028.7,418.8 L1022.6,420.4 L1016.5,421.8 L1010.3,423.2 L1004.2,424.6 L1007.4,434.2"/>
<path d="M1029.2,337.8 L1033.9,332.2 L1038.4,326.6 L1042.9,320.9 L1047.2,323.8 L1053.6,319.6 L1060,315.2 L1062,301.6 L1066.8,293.5 L1071.2,287.5 L1075.4,281.5 L1085.3,285.5 L1088.8,292.7 L1097.1,293.6"/>
<path d="M1033.3,311.2 L1042.9,320.9"/>
<path d="M1058.2,284.3 L1060.6,290.8 L1065.6,287.7 L1070.5,284.7 L1075.4,281.5"/>
<path d="M1094.1,246.1 L1103.2,247"/>
<path d="M1105.4,245.9 L1105.1,241.7 L1102,232.7 L1098.9,223.7 L1093.9,213.9 L1089.8,205.8 L1085.7,197.8"/>
<path d="M1099,223.9 L1104.6,221.1 L1110.1,218.3 L1115.6,215.4 L1118.8,211.6"/>
<path d="M1101,233.1 L1105.5,230.9 L1110.1,228.6 L1114.7,226.2 L1119.2,223.9 L1119.5,234.5"/>
<path d="M1115.6,225.7 L1119.5,234.5"/>
<path d="M1105.9,220.5 L1103.9,213.7 L1101.9,207 L1101.6,198.4 L1100.5,190.3"/>
<path d="M1118,208.7 L1114.1,202.7 L1110.3,196.7 L1106.5,190.7 L1102.7,184.8"/>
</g>
<g clip-path="url(#us)" fill="none" stroke="#080814" stroke-width="1.5" stroke-linejoin="round">
<path d="M940.3,205.8 L937.9,207.9 L935.6,209.2 L932.5,212.6 L930.7,214 L929.5,216.6 L927.1,219.2 L924.6,221.2 L922.3,224.8 L924,225.4 L926.6,223.2 L929.2,222.7 L931,220.7 L933.3,220.5 L937.2,224.9 L939.6,223.4 L941.5,221.8 L944,220.5 L946.4,217.5 L947.2,215.9 L950.2,214.4 L951.6,212.4 L953.7,211 L955.8,209.9 L955.9,213.6 L954.3,217.9 L957.1,217.8 L959.4,216.4 L963.2,221.3 L965.5,220.4 L967.6,219.6 L970,219.8 L971.4,217.8 L974.3,217.7 L975.4,216.1 L977.9,213.9 L980,213.7 L983,211.7 L986.5,214.8 L989.8,216.7 L993.1,219.1 L995,219.4 L997.1,218.4"/>
<path d="M976.3,224 L973.6,225.7 L972.1,226.5 L969.2,228.7 L967.4,229.9 L966.8,233.7 L964.6,238.5 L963.8,242.5 L962.7,246.3 L965.8,243.3 L967.7,240.7 L969.4,234.4 L969.6,238.4 L968.1,241.4 L967,245.9 L966.6,249.3 L967.5,251.8 L967.6,255.6 L967.7,258.8 L967.8,262.6 L966.9,265 L969,269.3 L969.7,271.7 L971.4,274.5 L972.3,277.6 L976.7,282.1 L978.8,280.5 L981.6,278.6 L982.3,276 L983,271.7 L984.6,268.1 L982.4,265.4 L981.8,261.9 L980,259.2 L979.4,256.3 L979.3,252.4 L978.3,249.6 L978.9,245.8 L978.4,241.3 L979.3,237.3 L981.7,237.1 L982.9,235.1 L985.3,232.6 L986.8,229.1 L986.8,223.8"/>
<path d="M976.5,224.4 L978,223.9 L980.2,223.2 L983,222.1 L983.8,222.5 L987.6,223.9 L988.9,222.6 L991.6,220.4 L993.3,220.1"/>
<path d="M987.5,224.1 L989.8,224.8 L992.6,225.3 L995.9,226.5 L999,227.7 L1001.9,230.1 L1003,233.4 L1003.9,236 L1003.7,239.3 L1002.7,243.4 L1002.1,248.5 L1004,246.8 L1006.5,243.8 L1008.2,242.3 L1010.7,244.9 L1012.6,246.8 L1015.1,250.4 L1016.7,253.1 L1018.4,258.4 L1015.5,261.5 L1014.4,268.4 L1012.2,271.4 L1015.8,272.1 L1019.3,272.4 L1023.2,272.1 L1024.5,271.1 L1027,269.8 L1030.5,269.7 L1031.5,266.7 L1034.1,264 L1036.4,262 L1038.9,259.1 L1040.5,256.8 L1042.4,254.9 L1045.3,252.4 L1046.4,249.8 L1048.9,248.1 L1049.9,243 L1046.7,239.4 L1048.3,237.8 L1050.6,237 L1052.7,235.8 L1054.9,233.9 L1057.3,233.9 L1058.9,232.9 L1061.6,232.8 L1064.6,231.5 L1066.6,229.8 L1067.8,227 L1067.1,221.4 L1067.8,216.6 L1069.3,213.8 L1070.6,211 L1071.1,208.5 L1072.3,205.3 L1074.7,202.6"/>
<path d="M1091.1,274.9 L1091.5,281.2 L1091.6,285.2 L1093,288.3 L1095.8,291.1 L1098.2,293.5 L1099.5,295.7 L1101,299.4" stroke-width="2.4"/>
<path d="M1096.2,284.8 L1098.2,288.7 L1099.3,290.6 L1101.6,295.1 L1102.7,297.9"/>
<path d="M1095.8,267.9 L1097.6,270.7 L1098.1,273.9 L1103.8,278"/>
<path d="M1106.3,325.6 L1111.2,325.4 L1114.4,325 L1111.3,331.6" stroke-width="2.4"/>
<path d="M1103.5,319.7 L1105.9,319 L1109.1,317.5 L1110.5,317.4" stroke-width="2.4"/>
<path d="M1108.5,311 L1111.5,315.7 L1114.8,319.4"/>
<path d="M1104.1,252.3 L1106.3,250.3 L1108.9,249.8 L1110.3,247.9 L1112.5,246.6 L1114.6,243.9 L1115.9,241.7 L1118.1,240.4 L1119.5,238.5 L1116.2,238.6 L1113.7,241.1 L1111.9,242.6 L1109.7,245.1 L1107.8,246.6 L1104.9,248.7"/>
<path d="M671.5,175.9 L670.7,181.9 L669,183.7 L667.3,187.2 L664.6,189" stroke-width="2.4"/>
<path d="M626.6,299 L623.8,302.6 L624.8,307.9"/>
<path d="M731.6,283.3 L733.3,285.8 L735.8,287.7 L735.7,290.5 L734.2,294.8 L732.3,292.3 L730.6,290.9 L730.1,286.5 L731.1,282.8"/>
<path d="M917.9,456 L921.1,459.1 L920.1,461"/>
<path d="M1000,430 L1000.9,436"/>
<path d="M972.9,439.6 L976.1,443.9 L980.3,441.4 L975.9,440.9 L972.5,440.6" stroke-width="2.4"/>
</g>
<path d="M655.5,168.6 L658.7,168.4 L660.6,167.7 L663,167.8 L665.6,168.1 L667.9,167.5 L670.4,167.8 L672.2,168 L675.2,167.1 L677.8,168.1 L679.4,169.8 L682,170.7 L684.3,171.6 L686.2,172.3 L688.3,174 L691.3,174.8 L693.6,175.6 L695.4,176.4 L698.4,176.8 L700.3,177.8 L703,178.6 L704.8,179.4 L707.4,180.6 L709.5,181.4 L711.6,181.5 L713.9,182.1 L717,183.6 L718.8,183.5 L721.4,184.7 L724.2,185.2 L726.4,185.1 L728.6,185.7 L731.1,186.7 L733.2,186.9 L736.2,187.2 L738.6,188.7 L741.2,188.7 L743.1,189.4 L745.5,190.3 L748,190 L750.5,190.7 L752.6,191.5 L754.3,192 L757.4,192.2 L759.6,192.7 L761.6,193.2 L763.8,193.7 L766.9,194.1 L769.2,195 L771.9,194.5 L774.2,195.4 L775.7,195.4 L778.3,195.4 L781,196.7 L783.2,197 L785.9,196.5 L788.5,197.4 L791,197.9 L793.1,197.8 L795.6,198.8 L798,198.6 L800.3,199 L802.1,198.8 L804.5,199.3 L807.1,200 L810.2,200.4 L812.4,200.9 L814.8,201 L817.8,201.3 L819.6,202.1 L822.8,201.6 L825,201.8 L827.8,201.6 L829.7,201.6 L833.1,201.6 L835.3,201.7 L837.6,201.7 L840.3,201.8 L842.5,201.8 L845.1,202.2 L847.4,201.7 L850.3,202.2 L853.1,201.8 L855.2,202.2 L857.2,202.9 L859.9,201.9 L862.7,202 L865.3,202.2 L867.2,201.9 L870.3,202.2 L872.9,202.4 L875.5,202.3 L877.5,202 L880.9,202.2 L883.2,201.5 L886.3,202.2 L889,201 L891.2,200.8 L892.1,198.5 L892.8,196.9 L896.2,196.4 L896.8,199.2 L897,202.2 L899.7,201.6 L901.5,202.6 L904.7,202.5 L906.5,203.7 L908.8,203.6 L911.5,204.4 L914.7,204.2 L917,205.3 L919.8,205.6 L922.6,205.8 L924.8,206.2 L927.9,207 L930,207.1 L933.2,208.1 L935.4,205.9 L937.3,203.6 L939.8,201.5 L941.7,200.3 L943.6,197.3 L944.7,195.9 L946.9,193.7 L949.7,193.3 L952.4,193.8 L954.4,193.5 L956.7,193.6 L960.3,193.4 L962.5,193.5 L964.5,194.2 L966.2,196.5 L967.6,200.2 L970.6,199.7 L972.7,200.9 L975.2,200.7 L977.9,201.1 L979.5,203.3 L980.8,204.8 L981.8,206.9 L984,209.1 L984.5,212.2 L987.3,213 L989.7,213.3 L992.5,214.5 L995.5,215.1 L998.3,216.2 L1000.3,215.4 L1002.9,214.4 L1005.9,214.5 L1008.3,213.6 L1010.5,213.4 L1013.3,212.5 L1015.2,213.6 L1017.2,214.4 L1020.3,214.9 L1022.2,216.5 L1023.7,217.5 L1026.5,218.8 L1027.9,219.9 L1029.7,221.3 L1030.9,225.1 L1031.2,228.5 L1028.3,228.5 L1025.6,227.9 L1023.5,228.4 L1023.1,230.9 L1022.4,233.7 L1022.2,237.2 L1020.9,239.7 L1020.1,241.3 L1020.1,244 L1019.3,246.9 L1018.1,249.5 L1017.8,251.6 L1019.1,254.1 L1020.7,255.7 L1021.3,257.8 L1023.7,256 L1025.5,255.1 L1028.1,253.8 L1030.5,252.1 L1031.5,249.2 L1033.1,247.3 L1035.1,245.2 L1036.5,243.4 L1037.3,240.5 L1038.8,238.3 L1039,235.2 L1040.3,232.5 L1041.8,231.4 L1044.4,229.3 L1046,227.7 L1049,226.3 L1051.4,225 L1053.5,222.5 L1054.6,220.6 L1056.8,219.1 L1058.4,217.5 L1060.4,215.4 L1062.5,214 L1064.7,211.6 L1066.2,209.9 L1069.3,207.7 L1072.2,205.3 L1073.4,202.9 L1076,202 L1077.7,200.4 L1079.8,198.1 L1081.3,196.2 L1084.4,196.3 L1087.1,195 L1089.4,194.7 L1092,193.5 L1094.1,192.6 L1096.3,191.4 L1098,190 L1099,187.1 L1099.8,185 L1100.9,182.2 L1101.6,179.1 L1101.5,176.7 L1100.9,174.7 L1100.7,172.5 L1099.8,169.2 L1099.1,167.4 L1098.3,164.8 L1099,163 L1098.7,160.2 L1099.4,157.5 L1100.4,155.5 L1102.7,153.4 L1105.5,152.1 L1107.4,151.6 L1109.8,149.7 L1112.7,151.6 L1114.3,152.1 L1116.5,152.9 L1118.1,156.1 L1119.6,157.5 L1121.4,159.5 L1123.4,162.5 L1125.4,164.6 L1127,166.2 L1129.6,168.9 L1132.5,169.7 L1132.3,173.1 L1131.8,176.2 L1129.7,179.2 L1127.8,181.1 L1126.1,183.2 L1124.9,184.9 L1122.6,186.2 L1121.7,188.8 L1119.5,192.1 L1118.7,193.7 L1117.2,196.7 L1115.3,198.4 L1114.1,201.4 L1112.8,202.6 L1113.8,205.5 L1115.3,209.3 L1116.2,211.4 L1118.8,214.3 L1120.6,215.6 L1121.5,218.5 L1124.3,218.7 L1126.8,218.5 L1129.3,220.3 L1132.3,221.1 L1131,224 L1129.9,227 L1128.7,228.7 L1126.8,231.5 L1125,232.3 L1123,234.7 L1120,235.7 L1117.9,237.2 L1116.6,239.2 L1114.4,240.6 L1111.7,243.2 L1110.7,245.1 L1108.8,246.4 L1107.1,247.8 L1105,249.9 L1104.8,252.6 L1105.2,254.9 L1105.4,257.1 L1105.6,259.9 L1106.5,262.7 L1106.5,265 L1106.1,267.6 L1106.3,269.1 L1106.7,272.3 L1106.2,274.9 L1105.9,278.1 L1105.8,280.3 L1105.6,283.5 L1105.8,285.9 L1104.9,288.8 L1104.8,291.3 L1105.9,294.4 L1105.4,297.2 L1106,300.1 L1106.3,302 L1106.8,305.4 L1108.3,307.4 L1110.3,308.8 L1111.5,311 L1113.3,312.9 L1115.2,315.4 L1116.8,316.6 L1116.4,319.5 L1116.8,321.9 L1116.2,324.8 L1114.7,326.3 L1113.3,329.1 L1111.5,330.7 L1110.1,332.6 L1108.5,333.9 L1106.6,335.6 L1105.2,337.9 L1103.2,340.4 L1101.4,341.7 L1100.4,344.1 L1098.1,345.8 L1097,348.1 L1096.2,350.7 L1094.2,353.2 L1093,355.6 L1092.4,358.7 L1091.4,360.9 L1091.3,364.4 L1089.5,366.9 L1088.9,369.5 L1086.7,370.5 L1085.8,372.9 L1084.8,375.4 L1082.8,376.9 L1081.8,379.6 L1080.2,381.2 L1078.8,383.7 L1077.5,386.2 L1077.8,388.3 L1077.1,390.4 L1077.3,393.6 L1077.2,395.5 L1077.4,398.4 L1076.7,400.4 L1077.1,404.3 L1077.6,407 L1079.4,408.9 L1080.9,411.6 L1082.3,413.4 L1082.9,414.7 L1084.5,417 L1085.6,419.7 L1087.1,421.6 L1089.3,422.8 L1090.8,425.1 L1091.5,426.8 L1092.8,429.1 L1094.7,431.5 L1096.6,432.7 L1097.7,435.1 L1098.9,437.1 L1100.5,439.6 L1102,441.1 L1103.7,443.5 L1105.8,445.4 L1107.8,447.4 L1109.5,449.9 L1110.7,452.2 L1112.1,454.5 L1113.5,457.2 L1114.4,459.1 L1115.9,462.6 L1116,464.7 L1116.2,467.4 L1117.1,469 L1117.7,472.3 L1117.6,474.6 L1117.2,476.3 L1116.9,479.1 L1116.4,481.9 L1115.2,484.4 L1114,486.4 L1111.6,488.9 L1109.5,490.6 L1108.2,488.6 L1106.3,485.4 L1105.5,483.6 L1102.8,482.3 L1101.2,480.3 L1099.1,479 L1096.6,476.8 L1094.3,475.2 L1093.6,472.9 L1091.9,471.2 L1089.6,469.4 L1088,467 L1085.5,465.3 L1083.9,463.6 L1081.8,461.4 L1080,459.5 L1078.6,457.4 L1076,455.3 L1074.2,452.9 L1072.2,450 L1071.5,448.6 L1070.8,446 L1069.1,443.2 L1067.9,441.3 L1066.1,439.1 L1063.7,437.5 L1060.6,435.3 L1059.2,433.3 L1056.8,431.6 L1054.5,429.3 L1052.9,428 L1050.3,426.1 L1047.2,427 L1045.6,427.6 L1043,429.5 L1040.7,431 L1038.4,432.5 L1036.4,434 L1034.1,433.2 L1032,431.5 L1029.4,430.2 L1027,428.7 L1024.2,427.8 L1021.6,426 L1018.4,427 L1015.5,427.5 L1012.9,428.1 L1010.4,428.3 L1007.6,428.9 L1005.6,431.2 L1003.8,432 L1000.8,434.3 L999.2,435.2 L997,436.3 L995.4,438.9 L994.1,440.3 L992.3,442.8 L991.8,444.3 L989.5,446.2 L991,449.7 L991.3,453.4 L992.1,455.7 L988.2,457.5 L985.8,456.6 L983.6,454.3 L982,453.1 L980.5,451.3 L977.8,453 L975.3,454.5 L972.7,455.9 L969.7,457.4 L967.6,455.8 L964.2,454.4 L961.3,452.8 L959.3,452.8 L956.8,452.3 L953.7,451.8 L951.5,451.8 L949.3,451.7 L947,451.8 L944.1,452.1 L941.2,451.9 L938.1,451.6 L935.9,452.2 L932.3,452.8 L930.1,452.6 L927.6,452.9 L925.9,453.8 L922.9,455.5 L920.1,456.2 L918,457.2 L916,458.7 L912.5,460 L910.6,461.9 L909.7,463.7 L906.9,465.1 L905.3,466.5 L903.4,467.9 L901.3,469.9 L899.4,471.9 L897.5,473.5 L895.7,474.7 L894.3,477.4 L892.3,479.5 L890.1,481.2 L888.9,484.2 L888,486.2 L885.8,489.4 L885.5,491.6 L886.2,494.6 L886.9,497.3 L888.1,499.7 L888.8,503.3 L888.5,505.5 L888.2,507.8 L888.4,510.8 L888.5,513 L884.8,512.1 L881.9,511.2 L879.6,510.9 L876.4,509.6 L873.8,508.4 L871.7,507.2 L869.6,506.3 L866.5,504.9 L864.9,502.9 L864.3,500 L862.9,497.5 L861,495.1 L859.7,493.1 L858.7,490.9 L856.7,488.6 L855.7,485.9 L854.3,483.6 L852.5,481.2 L851.6,479.3 L850.5,476.4 L848.8,474.7 L846.9,472.5 L844.6,470 L843.8,466.9 L841.8,465.5 L839.5,463.7 L838.1,461.6 L835.3,459.7 L834.1,458.3 L831.5,456.6 L829.2,456.4 L825.3,457.2 L822.7,456.6 L820.5,456.5 L817.9,459.1 L816.4,460.4 L815.5,462.4 L813.8,464.5 L811.5,466.4 L809.6,465.1 L807.3,463.4 L805,462.1 L803.6,460.3 L801.3,457.9 L798.6,456.3 L796.3,455.5 L796.2,453 L794.9,449.6 L793.8,447 L793.4,444.7 L791.2,443.6 L789.4,441.7 L787.9,439.5 L786.1,437.8 L784.8,435.3 L783.5,433.7 L781.4,431.3 L780.4,429.2 L779.4,427.5 L777.3,425.5 L775.9,423.5 L775,421.6 L772.3,421.5 L770,422.1 L767.4,422.1 L765,421.4 L762.1,422.3 L760,421.8 L757.5,422.3 L754.9,421.8 L754.2,423.8 L753.7,426.6 L753,428.9 L750.3,429.2 L747.3,429.5 L744.6,429.4 L742.6,426.8 L740.2,425.5 L738,425.7 L735.9,425.2 L733.5,423.8 L730.4,423.3 L728.3,423.1 L725.8,422.9 L723.5,422.2 L721.1,420.6 L717.9,419.6 L715.6,417.3 L714,416 L711.5,414.3 L708.7,413.7 L706.2,412 L704.9,410.6 L702.4,410.2 L700,409.1 L697.8,407.3 L694.9,406.8 L693.5,405.4 L690.8,404 L688.9,403 L686.2,401.9 L683.6,400.6 L682,399.4 L679.6,397.1 L677.6,396.1 L675.4,394.8 L672.9,394.4 L670.1,393.3 L668.1,393 L665,391.5 L663.1,391.5 L660.2,390.4 L658.1,389.7 L654.7,388.6 L653.2,386.6 L651.6,384.5 L650.6,381.6 L649.4,379.4 L648.1,377 L646.8,374.5 L645.9,371.7 L644.6,369.3 L643.4,366.5 L641.3,365.1 L639.9,362.9 L637.7,360.9 L636.4,359.6 L634.1,357.2 L632.7,356.2 L631.4,353.8 L629.6,351.9 L628.5,349.9 L626.1,347.6 L625,345.2 L625.3,342.6 L624.8,340 L625.1,336.9 L625.4,334 L624.4,331.1 L624.1,329 L623.6,326.5 L622.6,323.8 L622.3,321.4 L622.6,319.5 L621.4,317.2 L621.6,314.1 L621.5,311.8 L621.5,309.3 L620.5,307 L620.9,305.2 L620.3,302 L619.9,300.2 L619,297.9 L619.4,295.4 L618.8,292.5 L618.7,289.5 L617.5,286.8 L616.8,285 L616.3,282.4 L616.2,280 L616.1,277.2 L616.3,274 L615.8,271.9 L616.2,269.7 L616.8,267.3 L617,264.7 L616.5,262 L618,260.1 L618.6,257.3 L619.9,254.8 L621.3,252.3 L622.1,250.5 L622.6,248.4 L623.9,246.5 L625.4,243.8 L626.4,241.2 L626.6,238.3 L628.4,235.5 L629.9,232.7 L630.8,230.8 L632.4,228.8 L634.4,226.7 L635.8,223.9 L637.9,222.2 L638.4,219.8 L639.5,217.7 L640.7,215 L642.2,213.4 L643.6,210.3 L644.5,208.3 L646.8,205.7 L647.7,203.2 L649,200.6 L650.1,198.4 L651.2,196.5 L652.5,193.5 L653.1,192.2 L653.7,188.9 L654.4,185.3 L654.8,183.1 L655.1,179.8 L655.3,176.7 L655.4,173.9 L656.1,171.6Z" fill="none" stroke="#080814" stroke-width="1.6" stroke-linejoin="round"/>
<g fill="none" stroke="#080810" stroke-width="1.25" stroke-linejoin="round"><path d="M716.7,110.0 L716.3,113.4 L715.9,116.7 L714.9,120.0 L716.7,123.2 L717.6,126.7 L719.1,130.0 L720.7,133.2 L721.7,136.7 L723.2,139.9 L724.7,142.6 L726.7,145.1 L728.2,147.9 L729.7,150.9 L731.0,154.0 L733.2,156.6 L734.8,160.8 L735.9,165.0 L736.6,169.1 L738.0,173.0 L737.8,176.0 L736.9,178.9 L737.5,182.0 L736.5,185.0"/><path d="M787.5,110.0 L787.7,113.0 L787.9,116.0 L787.7,119.0"/><path d="M775.0,176.7 L774.8,180.2 L773.9,183.6 L774.1,187.1 L773.3,190.5 L772.9,194.0"/><path d="M842.0,176.0 L842.3,179.2 L842.2,182.5 L842.8,185.7 L842.9,189.0 L842.9,192.2 L842.6,195.5 L842.9,198.7 L843.1,202.0"/><path d="M840.0,110.0 L839.2,113.0 L838.7,116.0 L838.1,119.0"/><path d="M891.0,176.0 L891.0,179.4 L891.5,182.7 L892.1,186.0 L892.9,189.7 L894.0,193.3 L894.8,197.0"/><path d="M915.0,110.0 L913.8,112.9 L913.2,116.1 L911.8,118.9"/><path d="M960.0,110.0 L963.2,111.3 L966.0,113.1 L968.9,115.0 L972.2,116.1 L975.0,118.0"/><path d="M1016.7,176.7 L1017.9,179.7 L1018.1,182.9 L1018.9,186.0 L1020.3,189.5 L1021.5,193.1 L1024.5,195.4 L1026.9,198.1 L1030.0,199.9 L1033.0,201.7 L1036.7,201.4 L1040.4,201.6 L1044.0,201.2 L1047.7,201.6 L1051.3,202.5 L1055.0,202.8 L1059.1,201.2 L1063.0,199.1 L1066.7,197.8 L1070.1,195.9 L1073.1,200.7"/><path d="M1102.0,111.3 L1101.1,113.6 L1099.5,115.6 L1099.1,118.2 L1097.9,120.7 L1097.5,123.5 L1096.3,126.1 L1095.9,128.4 L1093.9,130.1 L1094.2,132.7 L1093.2,134.7 L1092.1,136.7 L1090.9,139.0 L1091.9,141.6 L1090.9,143.9 L1090.3,146.3 L1089.7,148.6 L1089.9,151.5 L1090.4,154.1 L1091.9,156.6 L1092.1,159.3 L1091.6,161.5 L1090.0,163.4 L1089.2,165.5 L1090.0,168.0 L1089.0,170.1"/><path d="M1079.3,150.0 L1081.9,149.2 L1084.6,148.9 L1087.3,149.0 L1090.0,148.8"/><path d="M1088.7,170.0 L1089.3,167.5 L1089.9,165.0 L1091.6,163.0 L1092.6,160.7 L1093.3,158.0 L1094.5,155.5 L1094.5,152.7 L1094.7,150.0 L1095.6,147.9 L1096.3,145.8 L1095.9,143.3 L1098.0,141.7 L1098.2,139.4 L1099.7,137.5 L1100.6,135.3 L1101.0,132.9 L1102.1,130.7 L1103.0,128.5 L1105.1,127.0 L1105.9,124.4 L1107.5,122.6 L1109.3,120.8 L1111.1,119.1 L1113.6,118.2 L1115.7,116.9 L1118.1,116.0 L1120.6,115.7 L1123.6,116.3 L1126.0,117.9 L1127.2,120.5 L1126.4,123.3 L1125.4,125.4 L1125.0,128.1 L1123.5,130.1 L1121.1,131.6 L1118.8,132.9 L1116.7,134.6 L1113.8,135.0 L1112.3,137.1 L1114.7,135.9 L1116.7,134.6 L1118.3,132.7 L1120.5,131.7 L1122.9,133.1 L1124.8,134.5 L1127.1,133.1 L1128.5,130.5 L1130.5,132.3 L1130.0,135.1 L1131.7,136.7 L1133.0,138.6 L1134.9,139.9 L1137.5,140.1 L1139.3,142.0 L1141.6,144.1 L1144.6,145.0 L1147.4,144.3 L1149.9,143.1 L1152.1,142.2 L1154.2,141.0 L1156.8,140.9 L1158.9,139.4 L1161.4,138.5 L1163.2,136.6 L1165.8,134.9 L1168.8,134.3 L1171.3,132.6 L1172.9,130.2 L1174.1,128.0 L1175.0,125.7 L1175.5,123.4 L1172.5,120.9 L1169.3,123.3 L1169.4,125.6 L1169.7,127.8 L1169.1,130.0"/><path d="M1138.7,134.7 L1140.9,135.7 L1142.9,137.0 L1144.6,138.8 L1147.6,138.6 L1150.0,136.8 L1152.8,136.4 L1155.0,135.4 L1156.7,134.0 L1157.9,131.9 L1155.2,131.5 L1152.9,133.4 L1150.1,134.9 L1147.9,135.9 L1145.5,135.8 L1143.2,136.4 L1141.2,135.1 L1138.7,134.7"/><path d="M1163.3,116.0 L1162.6,118.4 L1161.9,120.8 L1162.4,123.4 L1162.4,125.7 L1162.6,128.2 L1163.5,130.5 L1164.5,132.8 L1166.7,134.0 L1168.9,135.1 L1169.6,132.7 L1169.3,129.9 L1170.3,127.3 L1170.1,124.7 L1168.5,122.7 L1167.8,120.4 L1167.7,117.9 L1165.5,116.6 L1163.2,116.3"/><path d="M1151.3,115.3 L1151.8,117.6 L1151.5,119.8 L1150.3,122.0"/><path d="M1172.7,136.7 L1171.2,138.5 L1171.3,141.0 L1169.2,142.4 L1168.3,144.5 L1167.1,146.5 L1166.2,148.9 L1164.6,150.7 L1163.6,152.9 L1162.7,155.2 L1159.9,156.2 L1159.1,158.6 L1158.0,160.7 L1156.6,162.8 L1156.8,165.4 L1155.3,167.5 L1155.0,169.9 L1154.8,172.2 L1153.7,174.2 L1152.6,176.2 L1151.5,178.1 L1148.7,177.2 L1145.9,176.9 L1144.8,174.5 L1143.2,172.5 L1143.0,169.8 L1143.1,167.3 L1144.0,164.6 L1144.8,162.0 L1146.6,160.7 L1147.3,158.4 L1149.0,156.9 L1146.7,155.3 L1144.7,154.0 L1143.4,151.3 L1141.6,148.9 L1143.9,147.3 L1145.8,145.8"/><path d="M1132.7,138.7 L1134.3,140.7 L1133.8,143.4 L1135.7,145.3 L1135.9,147.7 L1136.5,150.1 L1138.0,151.8 L1139.6,153.3 L1140.7,155.3 L1139.3,157.5 L1137.6,159.5 L1137.0,162.2 L1134.6,163.9 L1132.9,166.2 L1130.9,167.4 L1128.6,167.8"/><path d="M655.0,389.0 L652.6,386.9 L653.0,389.2 L653.1,391.6 L653.3,393.9 L654.5,396.0 L654.7,398.4 L655.4,400.6 L655.8,402.9 L655.9,405.3 L656.8,407.5 L657.2,409.8 L657.5,412.1 L656.9,414.5 L657.6,416.7 L657.5,419.1 L657.7,421.4 L659.2,423.6 L658.9,425.9 L658.5,428.3 L659.2,430.5 L661.3,432.0 L662.7,433.9 L663.5,436.1 L665.3,437.7 L666.2,439.9 L668.2,441.8 L668.8,444.6 L670.2,446.9 L671.8,449.0 L672.4,451.4 L671.2,453.9 L671.0,456.5 L671.3,459.1 L668.1,457.9 L665.1,457.6 L663.0,459.6 L660.4,459.9 L662.0,463.1 L663.0,466.0 L663.8,468.4 L665.5,470.2 L667.7,471.5 L669.5,473.1 L671.3,474.8 L673.4,476.1 L675.5,477.4 L677.3,479.1 L678.9,481.1 L680.8,482.5 L680.9,484.9 L682.1,486.8 L683.7,488.4 L684.2,490.6 L684.7,492.8 L685.9,494.7 L687.2,496.8 L686.0,499.5 L686.8,501.7 L687.0,504.0 L689.0,506.0 L689.2,508.3 L689.7,510.6 L690.0,513.2 L692.0,515.1 L693.3,517.3 L694.0,519.8 L694.7,522.4 L696.4,524.4 L699.0,525.6 L701.0,527.3 L701.8,530.1 L704.2,531.4"/><path d="M677.0,397.0 L675.9,399.9 L676.0,403.0 L676.2,405.3 L675.0,407.5 L675.3,409.8 L675.8,412.2 L674.1,414.3 L674.5,416.7 L674.0,419.0 L674.8,421.3 L674.5,423.8 L676.6,425.6 L675.9,428.4 L677.3,430.4 L678.2,432.7 L678.6,435.1 L678.7,437.5 L680.3,439.5 L681.6,441.4 L681.9,443.7 L683.2,445.5 L684.3,447.5 L685.2,449.6 L686.2,451.5 L686.9,453.7 L687.6,455.8 L688.4,457.9 L688.6,460.5 L690.3,462.4 L690.7,464.9 L692.1,466.9 L692.7,469.3 L694.1,471.4 L694.6,473.9 L695.4,476.1 L695.3,478.7 L696.4,480.9 L697.7,483.0 L697.9,485.5 L697.9,488.0 L700.0,489.9 L699.5,492.6 L700.9,494.7 L701.4,497.0 L701.4,499.4 L702.7,501.5 L703.1,503.9 L703.3,506.2 L703.4,508.6 L705.1,510.6 L705.1,513.1 L705.6,515.4 L706.3,517.7 L707.3,519.9 L707.9,522.1 L709.0,524.3 L709.1,526.7 L711.2,527.7 L712.3,530.2 L714.6,531.2"/><path d="M686.5,409.0 L687.4,406.7 L689.0,405.0 L689.5,407.7 L690.3,410.0 L691.5,412.2 L692.9,414.3 L693.8,416.5 L694.5,418.9 L695.0,421.3 L695.9,423.5 L695.7,425.9 L696.3,428.1 L695.3,430.6 L695.6,432.8 L696.6,435.0 L697.5,437.3 L696.9,439.7 L698.6,441.5 L699.6,443.6 L701.2,445.3 L701.6,447.7 L702.5,449.8 L703.4,451.9 L704.9,453.7 L705.5,456.0 L706.9,457.8 L708.0,460.1 L709.5,462.2 L710.1,464.8 L711.8,466.8 L713.0,469.0 L713.6,471.6 L715.2,473.1 L716.2,475.2 L717.7,476.9 L718.8,478.9 L720.4,480.5 L721.7,482.3 L722.9,484.2 L725.0,485.4 L726.1,487.7 L725.9,490.4 L728.2,492.2 L728.1,494.8 L729.3,497.0 L729.6,499.5 L727.7,501.4 L727.1,503.7 L727.1,506.1 L728.7,508.2 L730.4,510.2 L733.1,511.2 L734.4,513.5 L736.3,515.3 L737.2,517.5 L738.6,519.3 L740.0,521.2 L741.7,522.8 L742.9,524.7 L744.5,527.0 L746.0,529.3 L748.0,531.3"/><path d="M888.0,513.0 L889.8,515.7 L890.3,518.9 L890.6,521.3 L891.4,523.6 L890.7,526.0 L890.4,528.5 L889.9,531.0"/></g><g fill="none" stroke="#080810" stroke-width="1.7" stroke-linejoin="round"><path d="M643.0,128.0 L643.1,130.4 L643.4,132.7 L644.5,135.0 L646.4,137.0 L645.0,139.7 L645.6,141.9 L647.1,143.7 L647.8,145.7 L648.3,147.9 L650.8,149.2 L649.8,152.0 L651.6,153.7 L653.6,155.0 L654.3,157.2 L654.3,159.9 L656.8,160.9 L657.0,163.5 L658.0,166.1 L660.8,166.9 L663.3,167.7 L665.5,169.2 L665.3,166.7 L664.7,164.2 L663.4,162.0 L662.9,160.1 L660.6,158.8 L660.1,156.8 L659.6,154.8 L659.9,152.6 L658.1,151.0 L657.8,148.6 L655.3,147.4 L654.5,145.4 L654.1,143.1 L653.9,140.7 L653.5,138.7 L652.8,136.8 L651.0,135.3 L650.9,133.2 L650.1,131.3 L648.1,130.2 L645.6,130.0 L644.5,127.3 L643.1,128.4"/><path d="M653.7,110.0 L653.6,113.0 L654.9,115.3 L657.9,116.8 L656.5,119.2 L654.6,120.9 L653.3,122.8 L653.8,125.4 L655.4,126.7 L656.8,128.2 L656.2,131.2 L659.1,131.5 L659.5,133.8 L662.0,134.5 L662.7,136.9 L663.9,138.9 L666.6,140.3 L665.9,143.6 L667.9,145.5 L667.7,148.0 L669.1,149.9 L671.3,151.4 L671.0,154.0 L672.3,156.2 L674.4,158.2 L674.5,160.8 L674.2,163.0 L674.7,164.9 L675.3,166.8"/><path d="M653.7,110.0 l2.0,-4.0 M656.4,114.6 l6.5,0.8 M655.4,119.5 l3.7,-2.5 M653.4,125.3 l2.3,-2.6 M657.4,129.0 l3.8,-1.7 M659.4,133.8 l2.2,-2.7 M664.6,138.2 l4.9,-0.2 M667.0,143.0 l5.0,-1.3 M668.9,148.4 l3.3,-2.1 M671.6,153.8 l3.0,-2.4 M674.1,158.3 l2.7,-0.9 M673.6,164.1 l3.7,-5.3 " stroke-width="1.3"/><path d="M643.0,128.0 l2.4,0.7 M645.4,136.6 l3.2,-1.1 M647.6,144.2 l2.1,-0.4 M649.6,151.7 l1.8,-1.5 M653.4,159.1 l3.3,-1.7 M659.8,164.3 l2.6,-2.7 " stroke-width="1.2"/><path d="M670.3,168.5 L672.1,169.9 L672.4,172.3 L673.5,174.2 L672.7,176.0 L671.4,178.0 L670.7,181.1 L668.8,182.6 L666.8,183.7 L665.3,185.6" stroke-width="3.2"/><path d="M1109.6,490.4 L1106,493.5 L1102,495.8" stroke-width="2"/><path d="M1071.5,449 L1073.5,452.5 M1084.5,464 L1086.5,466.5 M1093,431 L1096,437" stroke-width="2.6"/></g><g fill="none" stroke="#0a1428" stroke-width="1.2" stroke-dasharray="5 4" clip-path="url(#us)"><path d="M664.5,307.8 L678.7,314.9 L696.5,322.0 L707.2,325.6"/><path d="M680.5,320.2 L696.5,328.3 L709.0,332.7"/><path d="M673.4,341.6 L668.0,352.3 L666.3,364.7 L659.1,375.4"/><path d="M698.3,366.5 L709.0,368.3 L716.1,377.2 L726.8,384.3"/><path d="M710.7,348.7 L719.6,359.4 L728.5,370.1 L737.4,377.2"/><path d="M725.0,345.2 L735.7,355.8 L746.3,364.7"/><path d="M730.3,320.2 L735.7,313.1 L744.6,306.9"/><path d="M762.3,297.0 L765.9,316.7 L765.0,343.4 L760.6,368.3 L753.5,389.6"/><path d="M774.8,357.6 L789.0,361.2 L800.0,363.0 L815.0,362.0"/><path d="M764.1,373.6 L780.1,377.2 L798.0,379.0 L815.0,379.0"/><path d="M755.2,389.6 L771.2,396.8 L790.8,398.5"/><path d="M730.3,391.4 L741.0,400.3"/><path d="M707.2,400.3 L716.1,407.4"/><path d="M765.0,417.0 L790.0,428.0 L820.0,432.0 L850.0,426.0 L880.0,420.0 L910.0,421.0 L940.0,421.0 L975.0,421.0 L1010.0,419.0 L1040.0,412.0"/><path d="M800.0,395.0 L830.0,392.0 L860.0,383.0 L890.0,375.0 L920.0,372.0 L960.0,366.0 L1000.0,357.0"/><path d="M860.0,478.0 L880.0,478.0 L898.0,476.0"/><path d="M820.0,280.0 L835.0,262.0 L855.0,250.0 L880.0,248.0 L910.0,256.0 L935.0,262.0"/><path d="M891.0,337.0 L920.0,334.5 L953.0,325.0 L986.0,315.5 L1015.0,305.0 L1045.0,290.0 L1075.0,270.0"/><path d="M1040.0,318.0 L1068.0,307.0 L1084.0,300.0"/><path d="M1000.0,420.0 L1030.0,410.0 L1060.0,398.0 L1085.0,385.0"/><path d="M640.0,250.0 L655.0,262.0 L668.0,278.0 L676.0,296.0"/><path d="M620.0,268.0 L635.0,280.0 L650.0,296.0 L660.0,312.0 L672.0,326.0 L690.0,334.0"/></g>
</g>
<g font-family="'Liberation Sans',sans-serif" fill="#0b0b12" stroke="#0b0b12" stroke-width="0.35"><text transform="translate(656.5,215.5) scale(1.14,1)" font-size="16.5" text-anchor="middle">40</text><text transform="translate(642.5,257.5) scale(1.14,1)" font-size="16.5" text-anchor="middle">50</text><text transform="translate(671,303.5) scale(1.14,1)" font-size="16.5" text-anchor="middle">50</text><text transform="translate(696,279) scale(1.14,1)" font-size="16.5" text-anchor="middle">40</text><text transform="translate(717,269) scale(1.14,1)" font-size="16.5" text-anchor="middle">33</text><text transform="translate(641.7,302) scale(0.82,1)" font-size="32.5" text-anchor="middle">A</text><text transform="translate(730.3,342.5) scale(0.85,1)" font-size="27.5" text-anchor="middle">N</text><text transform="translate(1016,420.5) scale(0.85,1)" font-size="26.5" text-anchor="middle">N</text><text transform="translate(1103,476) scale(0.88,1)" font-size="29" text-anchor="middle">A</text><text transform="translate(803,348) scale(1.14,1)" font-size="16.5" text-anchor="middle">50</text><text transform="translate(756,420.5) scale(1.14,1)" font-size="16.5" text-anchor="middle">40</text><text transform="translate(902,439.5) scale(1.14,1)" font-size="17.5" text-anchor="middle">33</text><text transform="translate(988,374) scale(1.14,1)" font-size="17.5" text-anchor="middle">60</text><text transform="translate(1007,349.5) scale(1.14,1)" font-size="16.5" text-anchor="middle">70</text><text transform="translate(744,288.5) scale(1.14,1)" font-size="13.5" text-anchor="middle">33</text><text transform="translate(869,252.5) scale(1.14,1)" font-size="11.5" text-anchor="middle">45</text><text transform="translate(872.5,350.5) scale(1.14,1)" font-size="11.5" text-anchor="middle">55</text><text transform="translate(907,379.5) scale(1.14,1)" font-size="11.5" text-anchor="middle">60</text><text transform="translate(929,425.5) scale(1.14,1)" font-size="11.5" text-anchor="middle">45</text><text transform="translate(840.5,336) scale(1.14,1)" font-size="11.5" text-anchor="middle">50</text></g>
<g id="sky" fill="#000"><path d="M8.5,614 A33.8,33 0 0 1 76,614 Z"/><rect x="38" y="579.3" width="9" height="5"/><rect x="88" y="577" width="35.7" height="37"/><rect x="139" y="568" width="42" height="46"/><path d="M141,568 L141.6,564.8 L152.4,564.8 L152,568Z"/><rect x="140.3" y="564.2" width="12.5" height="1.6"/><rect x="188.5" y="513" width="31" height="101"/><rect x="191.5" y="499.8" width="26" height="14"/><rect x="195.4" y="481.2" width="17.4" height="19"/><rect x="226.7" y="558.7" width="20.7" height="56"/><rect x="230.6" y="554" width="13" height="5"/><rect x="254" y="558.7" width="20.7" height="56"/><rect x="258" y="554" width="13" height="5"/><rect x="288" y="527.7" width="25.6" height="87"/><path d="M292,528 L292,524 Q292,521.6 296,521.6 L304.8,521.6 Q308.8,521.6 308.8,524 L308.8,528Z"/><rect x="285" y="594.6" width="43" height="20"/><path d="M335.8,614 L335.8,571.8 L344.8,562.7 L387.6,562.7 L396.6,571.8 L396.6,614Z"/><rect x="480.4" y="548.5" width="4.2" height="65"/><rect x="598.9" y="548.5" width="4.2" height="65"/><path d="M482.5,546.5 l-2.5,2.5 h5Z M601,546.5 l-2.5,2.5 h5Z"/><path d="M396,607.3 Q470,596 540,594.6 Q615,596 682,611.6 L682,613 Q612,598.6 540,597.4 Q470,598.4 396,609Z"/><path d="M482.5,547.5 L397,607.6 M482.5,547.5 L407,606.0 M482.5,547.5 L417,604.6 M482.5,547.5 L427,603.2 M482.5,547.5 L437,601.9 M482.5,547.5 L447,600.8 M482.5,547.5 L457,599.8 M482.5,547.5 L467,598.9 M482.5,547.5 L475.5,598.2 M482.5,547.5 L489,597.3 M482.5,547.5 L496,596.9 M482.5,547.5 L503,596.6 M482.5,547.5 L510,596.3 M482.5,547.5 L517,596.1 M482.5,547.5 L524,595.9 M482.5,547.5 L531,595.8 M482.5,547.5 L537,595.8 M601,547.5 L546,595.8 M601,547.5 L553,595.9 M601,547.5 L560,596.1 M601,547.5 L567,596.4 M601,547.5 L574,596.7 M601,547.5 L581,597.2 M601,547.5 L588,597.7 M601,547.5 L594.5,598.2 M601,547.5 L607.5,599.5 M601,547.5 L616,600.4 M601,547.5 L625,601.6 M601,547.5 L634,602.9 M601,547.5 L643,604.3 M601,547.5 L652,605.9 M601,547.5 L661,607.6 M601,547.5 L670,609.4 M601,547.5 L680,611.5 " fill="none" stroke="#000" stroke-width="0.65"/><rect x="0" y="612.5" width="1200" height="9"/></g><g fill="#000"><path d="M546,545.8 Q550,546.5 553.6,551.8 Q557,546.8 561.2,545.2 Q556.8,548.6 553.8,549.4 Q550.5,548 546,545.8Z" /><path d="M562,531 Q567,530.6 571.5,536 Q573,538 574.5,537 Q578,531.5 583.7,530.5 Q579,534 576,539.3 Q573,540.3 570,538.2 Q567,533.5 562,531Z"/><path d="M544.6,533.2 L548.6,536.2 L552.6,532.8 L548.7,534.8Z"/></g><g mask="url(#rmask)"><use href="#sky" transform="translate(0,1246.5) scale(1,-1)"/></g><g><circle cx="1173.8" cy="650.6" r="15" fill="#fff" stroke="#8ccaf2" stroke-width="0.7"/><circle cx="1173.8" cy="650.6" r="13.7" fill="#1b97e1"/><path d="M1163.2,642 A13.7,13.7 0 0 1 1185.2,643 Q1181.5,650 1174.2,653.4 Z" fill="#1b1878"/><path d="M1160.4,647.6 Q1161.2,644.4 1163.2,642 L1174.2,653.4 Q1181.5,650 1185.2,643 Q1186.6,644.6 1187.2,646.6 Q1181,653.5 1173,656.4 Q1166,651.2 1160.4,647.6Z" fill="#fff"/><text x="1174.2" y="646.6" text-anchor="middle" font-family="'Liberation Sans',sans-serif" font-weight="bold" font-size="4.3" fill="#dfe6ff">NOAA</text></g>
</svg></div>
<div id="kbar2" class="abs"></div>
<div id="cpc" class="abs"><div class="t1">CPC 6-10<span style="margin-left:1.6px"> Day</span><span style="margin-left:2.6px;letter-spacing:0.35px"> Outlook</span></div><div class="t2">April 10<sup>th</sup> to April 14<sup>th</sup></div></div>
<div class="abs ba" style="top:251.6px;color:#05071c;filter:blur(1.1px);opacity:0.85;transform:translate(0.2px,0.3px) scaleX(1.06);-webkit-text-stroke:2.2px #05071c">Below Average<br>Temps Favored</div>
<div class="abs ba" style="top:251.6px;color:#05071c;filter:blur(1.4px);transform:translate(1.2px,1.5px) scaleX(1.06);-webkit-text-stroke:1.2px #05071c">Below Average<br>Temps Favored</div>
<div class="abs ba" style="top:251.6px;color:#05071c;filter:blur(0.8px);transform:translate(0.6px,0.8px) scaleX(1.06);-webkit-text-stroke:0.8px #05071c">Below Average<br>Temps Favored</div>
<div class="abs ba" style="top:251.6px;color:#fff;transform:scaleX(1.06);-webkit-text-stroke:0.35px #fff">Below Average<br>Temps Favored</div>
<div id="legend" class="abs"><div class="bar"><i style="background:#211a4d"></i><i style="background:#261f69"></i><i style="background:#33407b"></i><i style="background:#0b5ba7"></i><i style="background:#3b97dc"></i><i style="background:#7db8e8"></i><i style="background:#a7c9ec"></i><i style="background:#a9a9a9"></i><i style="background:#f0b566"></i><i style="background:#ec8f48"></i><i style="background:#e4622f"></i><i style="background:#cf3229"></i><i style="background:#d62f46"></i><i style="background:#8e2b35"></i><i style="background:#6a252b"></i></div><span class="pl" style="left:49.7px">90%</span><span class="pl" style="left:80.3px">80%</span><span class="pl" style="left:111.0px">70%</span><span class="pl" style="left:141.7px">60%</span><span class="pl" style="left:172.3px">50%</span><span class="pl" style="left:203.0px">40%</span><span class="pl" style="left:233.7px">33%</span><span class="pl" style="left:264.3px">33%</span><span class="pl" style="left:295.0px">40%</span><span class="pl" style="left:325.7px">50%</span><span class="pl" style="left:356.3px">60%</span><span class="pl" style="left:387.0px">70%</span><span class="pl" style="left:417.7px">80%</span><span class="pl" style="left:448.3px">90%</span>
<div class="cap" style="left:17.6px">Below Average Temperatures Favored</div>
<div class="cap" style="left:272px">Above Average Temperatures Favored</div></div>
<div id="foot" class="abs">National Weather Service Omaha, NE</div>
<div id="frame" class="abs"></div>
</body></html>
